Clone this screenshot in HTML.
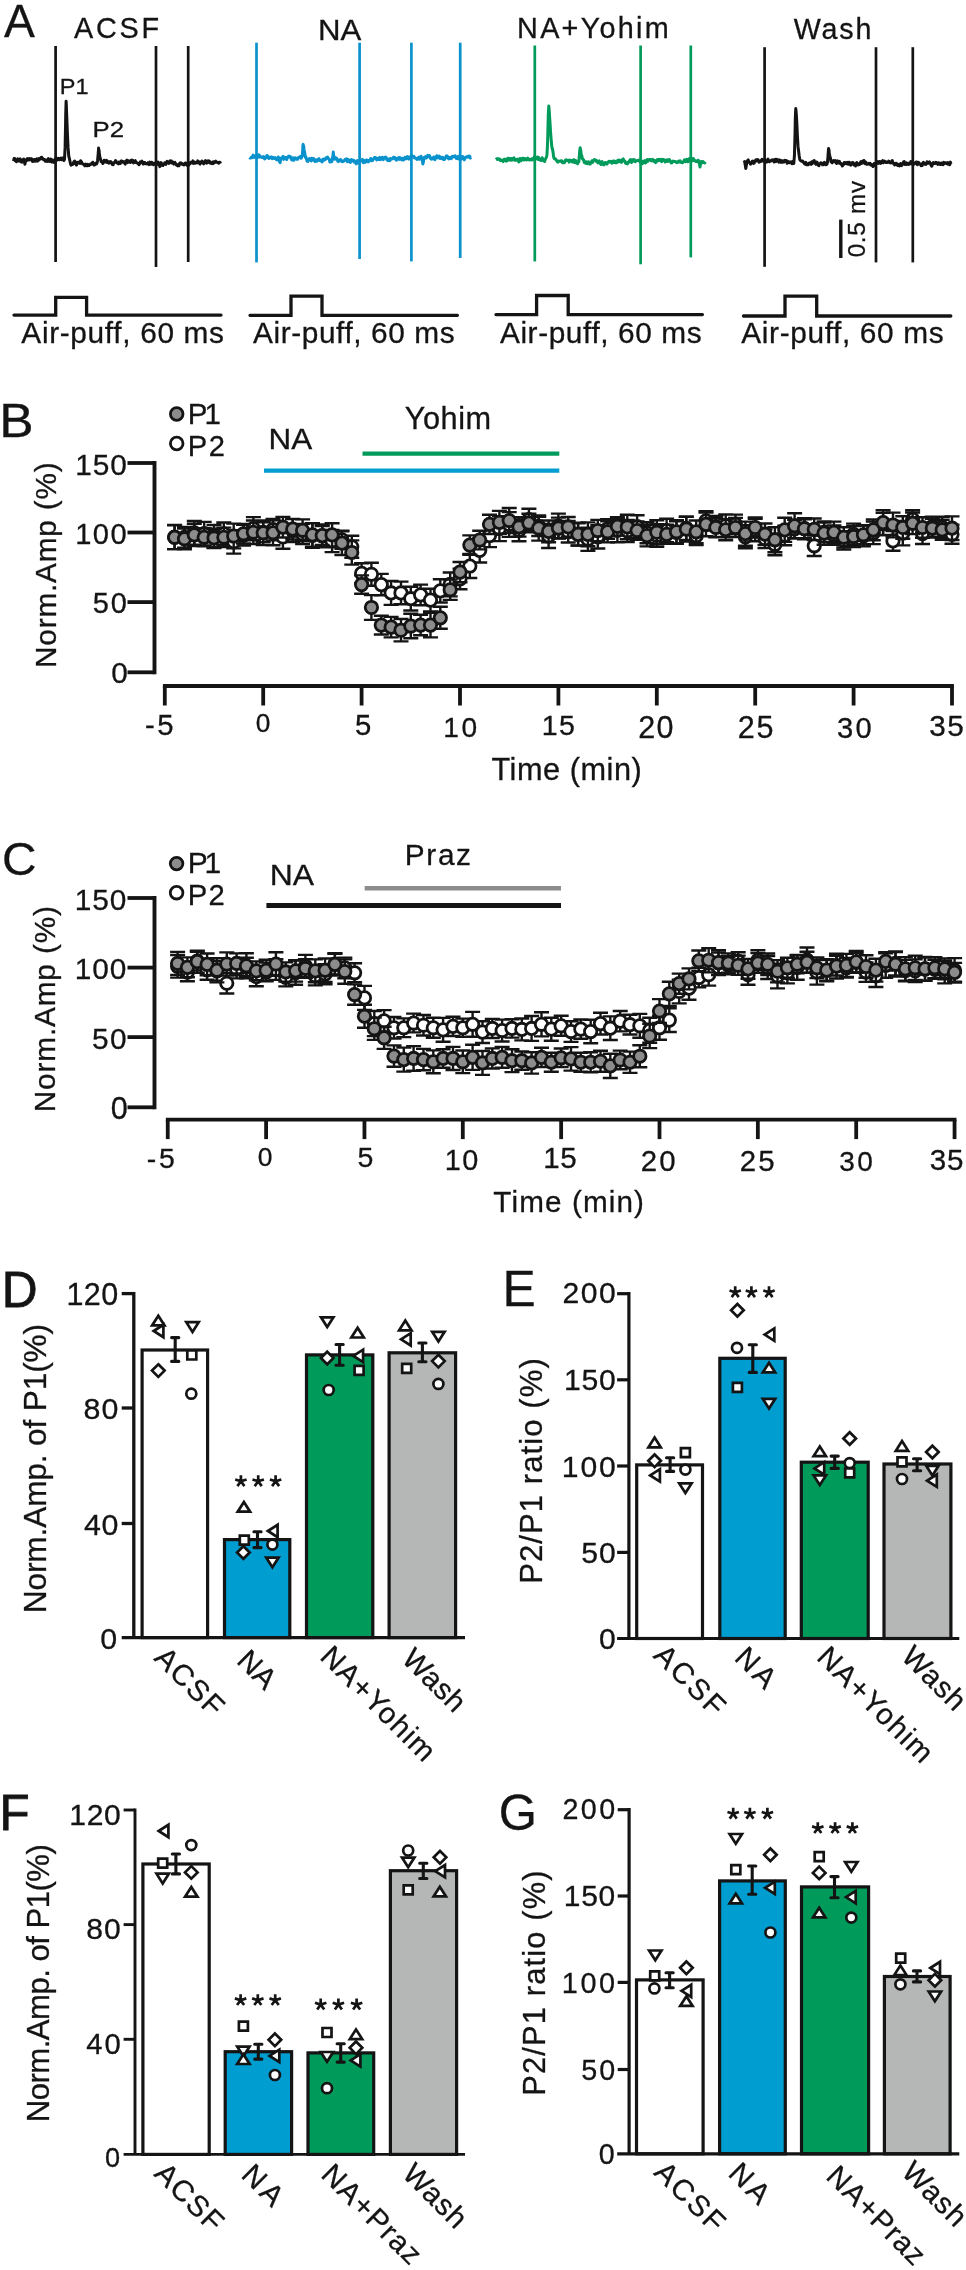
<!DOCTYPE html>
<html><head><meta charset="utf-8"><title>Figure</title>
<style>
html,body{margin:0;padding:0;background:#fff;}
svg{display:block;}
text{font-family:"Liberation Sans",sans-serif;stroke:#141414;stroke-width:0.3px;}
svg{will-change:transform;}
</style></head><body>
<svg width="966" height="2270" viewBox="0 0 966 2270">
<rect x="0" y="0" width="966" height="2270" fill="#fff"/>
<text x="4.08" y="37" font-size="46.25" textLength="30.61" lengthAdjust="spacing" fill="#141414">A</text>
<text x="73.93" y="38" font-size="28.8" textLength="85.28" lengthAdjust="spacing" fill="#141414">ACSF</text>
<text x="317.93" y="39.8" font-size="29.38" textLength="43.33" lengthAdjust="spacingAndGlyphs" fill="#141414">NA</text>
<text x="517.12" y="37.8" font-size="28.8" textLength="151.57" lengthAdjust="spacing" fill="#141414">NA+Yohim</text>
<text x="793.66" y="38.5" font-size="28.65" textLength="77.85" lengthAdjust="spacing" fill="#141414">Wash</text>
<text x="59.86" y="94.4" font-size="22.11" textLength="28.77" lengthAdjust="spacingAndGlyphs" fill="#141414">P1</text>
<text x="92.47" y="137.4" font-size="22.55" textLength="31.53" lengthAdjust="spacingAndGlyphs" fill="#141414">P2</text>
<path d="M13.5,161.1 L14.1,158.6 L14.7,158.5 L15.3,160.9 L15.9,160.2 L16.5,161.8 L17.1,160.3 L17.7,158.8 L18.3,160.1 L18.9,161.1 L19.5,159.9 L20.1,158.9 L20.7,159.6 L21.3,162.0 L21.9,162.2 L22.5,160.1 L23.1,159.8 L23.7,159.0 L24.3,160.2 L24.9,164.3 L25.5,161.5 L26.1,160.1 L26.7,159.6 L27.3,158.7 L27.9,160.2 L28.5,158.8 L29.1,160.0 L29.7,158.6 L30.3,159.2 L30.9,158.7 L31.5,158.7 L32.1,161.1 L32.7,161.4 L33.3,159.8 L33.9,161.3 L34.5,159.5 L35.1,159.5 L35.7,161.1 L36.3,160.9 L36.9,158.9 L37.5,161.1 L38.1,159.1 L38.7,158.5 L39.3,159.9 L39.9,158.8 L40.5,158.3 L41.1,157.4 L41.7,157.2 L42.3,159.0 L42.9,158.5 L43.5,159.7 L44.1,159.4 L44.7,159.6 L45.3,161.3 L45.9,160.3 L46.5,160.3 L47.1,161.4 L47.7,159.5 L48.3,158.7 L48.9,161.0 L49.5,161.5 L50.1,159.8 L50.7,159.0 L51.3,160.7 L51.9,162.0 L52.5,160.0 L53.1,161.8 L53.7,162.3 L54.3,161.5 L54.9,160.4 L55.5,158.8 L56.1,157.8 L56.7,160.3 L57.3,158.6 L57.9,159.4 L58.5,158.3 L59.1,159.8 L59.7,159.6 L60.3,158.6 L60.9,158.0 L61.5,159.6 L62.1,158.1 L62.7,158.1 L63.3,159.2 L63.9,160.5 L64.5,159.4 L65.1,147.4 L65.6,122.6 L65.7,115.0 L66.1,101.3 L66.3,104.5 L66.6,112.6 L66.9,120.1 L67.5,135.8 L68.1,147.7 L68.7,155.6 L69.3,158.3 L69.9,160.8 L70.5,163.7 L71.1,165.2 L71.7,164.7 L72.3,164.6 L72.9,164.2 L73.5,162.5 L74.1,161.5 L74.7,161.1 L75.3,163.9 L75.9,164.2 L76.5,165.1 L77.1,162.2 L77.7,163.1 L78.3,162.7 L78.9,163.2 L79.5,161.7 L80.1,163.4 L80.7,160.8 L81.3,161.6 L81.9,162.7 L82.5,163.9 L83.1,164.1 L83.7,164.3 L84.3,165.0 L84.9,165.8 L85.5,164.1 L86.1,164.6 L86.7,165.5 L87.3,165.8 L87.9,164.3 L88.5,165.0 L89.1,165.5 L89.7,164.7 L90.3,164.6 L90.9,163.7 L91.5,164.0 L92.1,164.0 L92.7,162.2 L93.3,163.3 L93.9,164.9 L94.5,165.0 L95.1,164.6 L95.7,163.3 L96.3,164.0 L96.9,163.5 L97.5,161.0 L98.1,154.8 L98.6,148.1 L98.7,149.8 L99.1,150.4 L99.3,153.1 L99.9,157.1 L100.5,159.0 L101.1,161.6 L101.7,161.9 L102.3,162.4 L102.9,163.5 L103.5,161.7 L104.1,160.2 L104.7,160.6 L105.3,162.0 L105.9,160.8 L106.5,160.3 L107.1,162.5 L107.7,162.5 L108.3,161.7 L108.9,163.1 L109.5,161.8 L110.1,162.7 L110.7,161.6 L111.3,162.1 L111.9,163.7 L112.5,164.6 L113.1,164.7 L113.7,162.9 L114.3,162.9 L114.9,161.8 L115.5,160.6 L116.1,161.3 L116.7,162.7 L117.3,163.3 L117.9,163.0 L118.5,163.8 L119.1,162.1 L119.7,162.9 L120.3,163.5 L120.9,161.4 L121.5,160.8 L122.1,161.3 L122.7,162.2 L123.3,162.1 L123.9,161.5 L124.5,163.1 L125.1,164.1 L125.7,162.7 L126.3,160.9 L126.9,160.1 L127.5,162.6 L128.1,160.6 L128.7,162.1 L129.3,162.1 L129.9,161.2 L130.5,162.5 L131.1,160.4 L131.7,160.1 L132.3,161.3 L132.9,160.4 L133.5,162.9 L134.1,161.9 L134.7,161.2 L135.3,160.7 L135.9,162.4 L136.5,162.4 L137.1,163.0 L137.7,163.3 L138.3,163.9 L138.9,164.7 L139.5,164.0 L140.1,162.1 L140.7,162.5 L141.3,161.8 L141.9,161.1 L142.5,162.6 L143.1,164.0 L143.7,162.7 L144.3,162.5 L144.9,162.6 L145.5,163.8 L146.1,163.5 L146.7,163.6 L147.3,164.0 L147.9,162.9 L148.5,163.8 L149.1,164.6 L149.7,162.1 L150.3,164.1 L150.9,164.2 L151.5,162.2 L152.1,162.7 L152.7,163.4 L153.3,164.6 L153.9,163.2 L154.5,163.3 L155.1,164.4 L155.7,164.4 L156.3,164.9 L156.9,163.4 L157.5,163.5 L158.1,162.1 L158.7,163.4 L159.3,165.1 L159.9,166.6 L160.5,165.6 L161.1,162.6 L161.7,164.3 L162.3,165.2 L162.9,165.5 L163.5,164.0 L164.1,164.3 L164.7,162.7 L165.3,164.1 L165.9,164.4 L166.5,162.8 L167.1,161.3 L167.7,161.9 L168.3,162.5 L168.9,163.3 L169.5,162.6 L170.1,160.8 L170.7,162.8 L171.3,161.0 L171.9,163.0 L172.5,161.8 L173.1,162.2 L173.7,164.1 L174.3,162.7 L174.9,162.4 L175.5,163.5 L176.1,164.6 L176.7,165.3 L177.3,165.1 L177.9,165.9 L178.5,164.6 L179.1,165.7 L179.7,163.2 L180.3,162.8 L180.9,163.6 L181.5,163.1 L182.1,164.3 L182.7,164.4 L183.3,164.0 L183.9,164.9 L184.5,164.3 L185.1,163.2 L185.7,163.0 L186.3,164.5 L186.9,165.1 L187.5,163.0 L188.1,164.4 L188.7,165.3 L189.3,164.1 L189.9,163.7 L190.5,162.2 L191.1,162.7 L191.7,162.6 L192.3,162.9 L192.9,160.9 L193.5,163.4 L194.1,162.8 L194.7,162.1 L195.3,163.2 L195.9,162.8 L196.5,162.4 L197.1,162.9 L197.7,160.9 L198.3,161.9 L198.9,161.8 L199.5,163.6 L200.1,164.1 L200.7,162.1 L201.3,162.1 L201.9,161.0 L202.5,161.6 L203.1,163.1 L203.7,163.9 L204.3,162.6 L204.9,161.6 L205.5,160.7 L206.1,161.8 L206.7,163.2 L207.3,161.0 L207.9,162.6 L208.5,160.8 L209.1,161.0 L209.7,161.4 L210.3,163.3 L210.9,162.8 L211.5,162.8 L212.1,163.6 L212.7,162.0 L213.3,163.5 L213.9,161.8 L214.5,162.4 L215.1,161.7 L215.7,161.2 L216.3,162.2 L216.9,162.3 L217.5,162.3 L218.1,162.6 L218.7,163.2 L219.3,162.3 L219.9,162.2 L220.5,163.6" stroke="#141414" stroke-width="3" fill="none" stroke-linejoin="round"/>
<path d="M249.5,157.4 L250.1,158.1 L250.7,158.0 L251.3,157.3 L251.9,157.6 L252.5,157.0 L253.1,155.1 L253.7,157.5 L254.3,156.2 L254.9,156.0 L255.5,155.8 L256.1,157.5 L256.7,158.2 L257.3,156.9 L257.9,156.0 L258.5,154.7 L259.1,157.1 L259.7,155.7 L260.3,156.9 L260.9,156.9 L261.5,157.2 L262.1,157.6 L262.7,157.3 L263.3,156.6 L263.9,157.8 L264.5,158.9 L265.1,158.6 L265.7,156.7 L266.3,157.5 L266.9,155.5 L267.5,156.0 L268.1,157.6 L268.7,158.5 L269.3,157.2 L269.9,158.1 L270.5,157.2 L271.1,157.0 L271.7,157.1 L272.3,158.6 L272.9,158.4 L273.5,157.5 L274.1,158.3 L274.7,158.5 L275.3,157.7 L275.9,159.0 L276.5,159.6 L277.1,159.0 L277.7,159.9 L278.3,157.0 L278.9,158.0 L279.5,161.5 L280.1,162.7 L280.7,158.8 L281.3,157.8 L281.9,157.6 L282.5,157.1 L283.1,156.4 L283.7,159.4 L284.3,158.6 L284.9,157.6 L285.5,157.6 L286.1,157.6 L286.7,159.6 L287.3,157.7 L287.9,157.2 L288.5,156.2 L289.1,157.0 L289.7,156.3 L290.3,156.6 L290.9,158.2 L291.5,159.6 L292.1,160.1 L292.7,157.8 L293.3,158.4 L293.9,160.3 L294.5,158.2 L295.1,157.9 L295.7,158.7 L296.3,158.4 L296.9,159.3 L297.5,159.3 L298.1,158.4 L298.7,157.3 L299.3,156.9 L299.9,156.9 L300.5,156.4 L301.1,158.3 L301.7,157.0 L302.3,155.7 L302.7,150.1 L302.9,145.5 L303.2,144.4 L303.5,146.4 L303.7,146.1 L304.1,150.0 L304.7,152.7 L305.3,157.3 L305.9,156.9 L306.5,159.1 L307.1,161.2 L307.7,161.5 L308.3,159.6 L308.9,159.9 L309.5,158.6 L310.1,158.7 L310.7,160.5 L311.3,160.9 L311.9,158.3 L312.5,158.6 L313.1,159.7 L313.7,158.6 L314.3,160.4 L314.9,161.4 L315.5,160.7 L316.1,159.9 L316.7,161.3 L317.3,160.7 L317.9,159.3 L318.5,159.1 L319.1,158.6 L319.7,160.6 L320.3,160.2 L320.9,160.6 L321.5,161.2 L322.1,161.9 L322.7,159.4 L323.3,159.0 L323.9,160.2 L324.5,160.1 L325.1,158.7 L325.7,159.1 L326.3,157.7 L326.9,157.3 L327.5,157.0 L328.1,158.4 L328.7,158.6 L329.3,159.9 L329.9,162.0 L330.5,160.0 L331.1,160.6 L331.7,161.7 L332.3,159.8 L332.8,156.0 L332.9,156.0 L333.3,152.1 L333.5,154.7 L333.8,155.6 L334.1,157.0 L334.7,159.2 L335.3,158.1 L335.9,157.8 L336.5,158.1 L337.1,159.3 L337.7,161.1 L338.3,161.6 L338.9,160.0 L339.5,160.2 L340.1,160.7 L340.7,159.5 L341.3,161.2 L341.9,161.7 L342.5,161.1 L343.1,161.5 L343.7,161.3 L344.3,160.7 L344.9,159.6 L345.5,159.2 L346.1,159.2 L346.7,158.8 L347.3,161.8 L347.9,160.9 L348.5,159.6 L349.1,160.4 L349.7,161.6 L350.3,162.5 L350.9,160.6 L351.5,159.6 L352.1,160.4 L352.7,160.4 L353.3,160.3 L353.9,161.9 L354.5,160.8 L355.1,161.4 L355.7,162.9 L356.3,163.8 L356.9,162.2 L357.5,160.5 L358.1,163.0 L358.7,162.3 L359.3,161.1 L359.9,160.3 L360.5,160.3 L361.1,160.4 L361.7,159.8 L362.3,159.3 L362.9,162.3 L363.5,162.7 L364.1,160.5 L364.7,161.0 L365.3,162.3 L365.9,161.7 L366.5,160.0 L367.1,160.2 L367.7,160.2 L368.3,161.9 L368.9,161.1 L369.5,160.3 L370.1,160.5 L370.7,158.5 L371.3,159.9 L371.9,160.8 L372.5,160.6 L373.1,159.5 L373.7,158.9 L374.3,157.7 L374.9,157.5 L375.5,157.6 L376.1,158.6 L376.7,160.0 L377.3,158.5 L377.9,158.8 L378.5,159.3 L379.1,159.5 L379.7,157.4 L380.3,159.7 L380.9,159.3 L381.5,158.1 L382.1,157.3 L382.7,158.5 L383.3,159.6 L383.9,157.9 L384.5,157.5 L385.1,158.0 L385.7,157.1 L386.3,157.7 L386.9,159.9 L387.5,159.7 L388.1,160.6 L388.7,159.1 L389.3,160.6 L389.9,160.7 L390.5,158.6 L391.1,158.7 L391.7,159.1 L392.3,158.6 L392.9,158.5 L393.5,157.2 L394.1,157.9 L394.7,157.6 L395.3,159.1 L395.9,158.4 L396.5,160.3 L397.1,159.7 L397.7,158.3 L398.3,158.5 L398.9,157.6 L399.5,159.4 L400.1,157.7 L400.7,159.1 L401.3,158.6 L401.9,160.0 L402.5,158.3 L403.1,159.6 L403.7,160.0 L404.3,158.5 L404.9,157.4 L405.5,157.8 L406.1,158.8 L406.7,157.8 L407.3,156.6 L407.9,157.6 L408.5,159.0 L409.1,157.1 L409.7,158.9 L410.3,157.9 L410.9,156.4 L411.5,155.6 L412.1,156.3 L412.7,157.1 L413.3,156.6 L413.9,156.3 L414.5,157.9 L415.1,157.7 L415.7,158.3 L416.3,158.5 L416.9,159.4 L417.5,159.2 L418.1,157.9 L418.7,157.3 L419.3,159.3 L419.9,157.2 L420.5,156.7 L421.1,156.3 L421.7,158.6 L422.3,160.4 L422.9,163.9 L423.5,161.4 L424.1,157.6 L424.7,157.0 L425.3,157.9 L425.9,156.5 L426.5,157.9 L427.1,157.0 L427.7,155.4 L428.3,155.9 L428.9,156.7 L429.5,155.6 L430.1,157.8 L430.7,158.8 L431.3,157.9 L431.9,159.1 L432.5,158.9 L433.1,158.4 L433.7,157.0 L434.3,159.2 L434.9,159.7 L435.5,158.1 L436.1,157.2 L436.7,155.7 L437.3,156.8 L437.9,157.9 L438.5,156.8 L439.1,156.1 L439.7,157.2 L440.3,158.5 L440.9,157.1 L441.5,157.3 L442.1,158.8 L442.7,157.3 L443.3,159.4 L443.9,158.3 L444.5,159.5 L445.1,158.5 L445.7,157.1 L446.3,156.0 L446.9,155.8 L447.5,156.3 L448.1,158.1 L448.7,158.9 L449.3,158.6 L449.9,157.4 L450.5,158.2 L451.1,158.7 L451.7,157.6 L452.3,156.3 L452.9,157.1 L453.5,156.5 L454.1,156.2 L454.7,156.7 L455.3,155.8 L455.9,158.2 L456.5,157.0 L457.1,158.6 L457.7,158.7 L458.3,156.4 L458.9,158.7 L459.5,159.2 L460.1,158.5 L460.7,159.5 L461.3,158.5 L461.9,156.6 L462.5,156.4 L463.1,157.0 L463.7,159.1 L464.3,159.9 L464.9,157.7 L465.5,157.8 L466.1,156.9 L466.7,156.8 L467.3,157.0 L467.9,157.1 L468.5,156.0 L469.1,157.2 L469.7,156.2 L470.3,158.1 L470.9,157.3" stroke="#0a92cc" stroke-width="3" fill="none" stroke-linejoin="round"/>
<path d="M496.0,159.5 L496.6,158.9 L497.2,159.4 L497.8,158.7 L498.4,159.2 L499.0,159.1 L499.6,159.0 L500.2,160.5 L500.8,160.4 L501.4,160.4 L502.0,160.0 L502.6,160.5 L503.2,161.6 L503.8,160.4 L504.4,159.1 L505.0,160.1 L505.6,160.0 L506.2,161.1 L506.8,159.1 L507.4,160.7 L508.0,158.2 L508.6,159.0 L509.2,158.8 L509.8,158.4 L510.4,160.2 L511.0,160.3 L511.6,158.6 L512.2,159.2 L512.8,159.9 L513.4,158.2 L514.0,157.8 L514.6,159.4 L515.2,160.4 L515.8,159.9 L516.4,159.6 L517.0,159.9 L517.6,159.2 L518.2,161.0 L518.8,161.9 L519.4,160.5 L520.0,158.5 L520.6,159.0 L521.2,160.6 L521.8,159.5 L522.4,158.3 L523.0,158.2 L523.6,159.8 L524.2,159.9 L524.8,158.5 L525.4,158.9 L526.0,159.2 L526.6,159.9 L527.2,159.6 L527.8,158.1 L528.4,159.0 L529.0,159.8 L529.6,160.0 L530.2,159.8 L530.8,159.3 L531.4,158.9 L532.0,159.9 L532.6,159.4 L533.2,159.5 L533.8,157.9 L534.4,156.8 L535.0,157.0 L535.6,158.2 L536.2,158.6 L536.8,157.5 L537.4,157.1 L538.0,159.5 L538.6,157.4 L539.2,159.6 L539.8,159.8 L540.4,159.3 L541.0,160.5 L541.6,160.0 L542.2,157.7 L542.8,160.2 L543.4,159.5 L544.0,161.2 L544.6,161.5 L545.2,159.5 L545.8,158.4 L546.4,157.1 L547.0,154.8 L547.6,141.7 L548.2,118.2 L548.3,114.0 L548.8,106.0 L549.3,111.9 L549.4,113.6 L550.0,122.9 L550.6,132.5 L551.2,140.1 L551.8,146.7 L552.4,149.0 L553.0,151.7 L553.6,156.8 L554.2,158.6 L554.8,158.9 L555.4,158.7 L556.0,159.8 L556.6,160.5 L557.2,161.6 L557.8,162.1 L558.4,161.5 L559.0,161.0 L559.6,161.3 L560.2,161.1 L560.8,160.8 L561.4,161.7 L562.0,160.9 L562.6,162.8 L563.2,162.6 L563.8,162.3 L564.4,162.7 L565.0,161.4 L565.6,160.1 L566.2,159.7 L566.8,160.3 L567.4,160.6 L568.0,160.3 L568.6,160.4 L569.2,162.2 L569.8,160.1 L570.4,160.8 L571.0,160.8 L571.6,160.5 L572.2,161.9 L572.8,160.7 L573.4,159.7 L574.0,159.8 L574.6,162.6 L575.2,161.6 L575.8,160.5 L576.4,163.0 L577.0,162.8 L577.6,163.7 L578.2,161.7 L578.8,161.9 L579.4,155.1 L579.7,150.7 L580.0,148.9 L580.2,147.7 L580.6,150.4 L580.7,149.9 L581.2,154.7 L581.8,155.8 L582.4,159.1 L583.0,159.3 L583.6,159.7 L584.2,162.3 L584.8,161.9 L585.4,163.1 L586.0,161.7 L586.6,162.7 L587.2,163.7 L587.8,163.2 L588.4,161.7 L589.0,162.7 L589.6,164.0 L590.2,164.0 L590.8,162.7 L591.4,162.1 L592.0,160.7 L592.6,162.4 L593.2,160.8 L593.8,160.4 L594.4,159.6 L595.0,159.7 L595.6,160.6 L596.2,161.3 L596.8,160.7 L597.4,161.4 L598.0,162.9 L598.6,161.3 L599.2,160.9 L599.8,162.1 L600.4,163.8 L601.0,164.4 L601.6,163.5 L602.2,161.6 L602.8,163.6 L603.4,164.7 L604.0,164.8 L604.6,163.5 L605.2,162.5 L605.8,162.7 L606.4,163.3 L607.0,164.1 L607.6,162.6 L608.2,162.1 L608.8,161.3 L609.4,161.8 L610.0,162.0 L610.6,161.2 L611.2,161.6 L611.8,163.3 L612.4,161.6 L613.0,161.1 L613.6,161.0 L614.2,162.7 L614.8,161.2 L615.4,162.3 L616.0,162.8 L616.6,162.7 L617.2,162.4 L617.8,160.2 L618.4,160.3 L619.0,161.6 L619.6,160.1 L620.2,160.7 L620.8,161.9 L621.4,162.4 L622.0,160.7 L622.6,159.4 L623.2,158.9 L623.8,159.9 L624.4,161.4 L625.0,161.3 L625.6,163.3 L626.2,163.5 L626.8,163.4 L627.4,163.9 L628.0,162.2 L628.6,162.4 L629.2,161.2 L629.8,160.4 L630.4,159.5 L631.0,161.4 L631.6,162.5 L632.2,159.9 L632.8,161.3 L633.4,159.5 L634.0,160.1 L634.6,159.9 L635.2,161.8 L635.8,161.0 L636.4,161.0 L637.0,160.7 L637.6,160.5 L638.2,160.6 L638.8,160.2 L639.4,160.0 L640.0,161.8 L640.6,163.0 L641.2,163.1 L641.8,161.7 L642.4,163.7 L643.0,161.2 L643.6,161.5 L644.2,161.3 L644.8,160.7 L645.4,163.0 L646.0,162.7 L646.6,160.5 L647.2,159.6 L647.8,161.3 L648.4,160.3 L649.0,159.7 L649.6,159.5 L650.2,159.6 L650.8,160.6 L651.4,160.1 L652.0,160.9 L652.6,159.4 L653.2,160.5 L653.8,161.1 L654.4,160.3 L655.0,161.9 L655.6,162.6 L656.2,162.0 L656.8,160.9 L657.4,159.6 L658.0,160.8 L658.6,160.0 L659.2,159.3 L659.8,160.3 L660.4,159.6 L661.0,160.8 L661.6,161.7 L662.2,159.4 L662.8,160.7 L663.4,159.6 L664.0,159.7 L664.6,160.9 L665.2,162.0 L665.8,160.2 L666.4,161.0 L667.0,159.9 L667.6,161.5 L668.2,159.7 L668.8,160.8 L669.4,159.5 L670.0,160.7 L670.6,161.9 L671.2,162.9 L671.8,162.8 L672.4,161.9 L673.0,161.1 L673.6,161.4 L674.2,161.6 L674.8,161.4 L675.4,161.7 L676.0,161.9 L676.6,162.6 L677.2,161.8 L677.8,162.4 L678.4,162.2 L679.0,161.0 L679.6,162.0 L680.2,160.8 L680.8,162.0 L681.4,162.5 L682.0,162.7 L682.6,162.7 L683.2,161.9 L683.8,161.0 L684.4,159.9 L685.0,160.7 L685.6,161.8 L686.2,160.4 L686.8,159.3 L687.4,160.8 L688.0,161.8 L688.6,159.8 L689.2,158.8 L689.8,158.4 L690.4,159.7 L691.0,161.1 L691.6,159.6 L692.2,160.8 L692.8,158.7 L693.4,158.5 L694.0,159.6 L694.6,160.8 L695.2,160.5 L695.8,161.4 L696.4,160.8 L697.0,161.0 L697.6,161.7 L698.2,160.2 L698.8,161.3 L699.4,163.8 L700.0,167.0 L700.6,163.8 L701.2,161.5 L701.8,162.9 L702.4,162.6 L703.0,161.6 L703.6,162.6 L704.2,162.6 L704.8,162.9 L705.4,162.0" stroke="#009b5a" stroke-width="3" fill="none" stroke-linejoin="round"/>
<path d="M744.0,162.4 L744.6,161.5 L745.2,164.8 L745.8,168.4 L746.4,164.9 L747.0,161.5 L747.6,160.6 L748.2,159.9 L748.8,162.2 L749.4,162.6 L750.0,162.6 L750.6,164.2 L751.2,162.7 L751.8,161.7 L752.4,161.1 L753.0,161.7 L753.6,163.4 L754.2,163.1 L754.8,160.9 L755.4,161.2 L756.0,159.7 L756.6,161.0 L757.2,159.8 L757.8,159.5 L758.4,161.0 L759.0,162.2 L759.6,161.9 L760.2,160.7 L760.8,161.5 L761.4,160.5 L762.0,159.3 L762.6,159.7 L763.2,161.2 L763.8,161.4 L764.4,160.0 L765.0,161.6 L765.6,162.1 L766.2,160.4 L766.8,162.1 L767.4,160.3 L768.0,159.1 L768.6,160.2 L769.2,161.8 L769.8,161.5 L770.4,161.2 L771.0,160.9 L771.6,160.1 L772.2,159.8 L772.8,160.0 L773.4,160.5 L774.0,162.0 L774.6,159.6 L775.2,159.3 L775.8,161.6 L776.4,161.4 L777.0,159.4 L777.6,160.0 L778.2,161.0 L778.8,162.2 L779.4,159.9 L780.0,161.8 L780.6,162.1 L781.2,160.6 L781.8,161.1 L782.4,162.3 L783.0,160.9 L783.6,162.0 L784.2,162.0 L784.8,160.3 L785.4,160.5 L786.0,161.1 L786.6,160.6 L787.2,163.3 L787.8,162.0 L788.4,161.6 L789.0,162.6 L789.6,162.7 L790.2,162.0 L790.8,161.8 L791.4,162.3 L792.0,163.8 L792.6,161.6 L793.2,163.6 L793.8,163.5 L794.4,156.2 L795.0,135.0 L795.3,119.7 L795.6,111.0 L795.8,108.6 L796.2,113.1 L796.3,113.9 L796.8,122.9 L797.4,135.9 L798.0,146.2 L798.6,151.0 L799.2,155.9 L799.8,159.6 L800.4,160.5 L801.0,160.8 L801.6,161.2 L802.2,160.9 L802.8,161.1 L803.4,162.2 L804.0,163.1 L804.6,163.9 L805.2,163.2 L805.8,162.4 L806.4,164.8 L807.0,164.7 L807.6,164.8 L808.2,164.8 L808.8,163.4 L809.4,163.7 L810.0,162.8 L810.6,163.5 L811.2,164.3 L811.8,161.9 L812.4,163.6 L813.0,161.8 L813.6,160.8 L814.2,160.5 L814.8,162.0 L815.4,163.5 L816.0,164.3 L816.6,162.0 L817.2,162.4 L817.8,164.5 L818.4,165.3 L819.0,165.6 L819.6,163.9 L820.2,163.5 L820.8,162.8 L821.4,162.9 L822.0,163.4 L822.6,164.8 L823.2,164.8 L823.8,163.0 L824.4,162.4 L825.0,163.1 L825.6,164.8 L826.2,163.9 L826.8,164.4 L827.4,162.7 L828.0,156.5 L828.1,153.9 L828.6,148.5 L829.1,151.1 L829.2,153.0 L829.8,155.8 L830.4,158.1 L831.0,161.8 L831.6,162.1 L832.2,162.8 L832.8,161.5 L833.4,160.6 L834.0,160.9 L834.6,161.7 L835.2,160.6 L835.8,161.1 L836.4,163.5 L837.0,162.7 L837.6,160.9 L838.2,163.0 L838.8,162.0 L839.4,161.4 L840.0,163.1 L840.6,164.0 L841.2,163.5 L841.8,164.8 L842.4,166.0 L843.0,164.6 L843.6,164.5 L844.2,162.6 L844.8,163.6 L845.4,162.7 L846.0,163.3 L846.6,163.7 L847.2,162.4 L847.8,163.1 L848.4,164.3 L849.0,162.3 L849.6,163.9 L850.2,163.6 L850.8,165.2 L851.4,162.9 L852.0,163.1 L852.6,162.4 L853.2,162.6 L853.8,164.9 L854.4,164.7 L855.0,164.1 L855.6,166.0 L856.2,163.6 L856.8,162.6 L857.4,164.6 L858.0,164.3 L858.6,164.8 L859.2,163.6 L859.8,164.4 L860.4,162.5 L861.0,161.5 L861.6,163.4 L862.2,163.0 L862.8,161.2 L863.4,160.7 L864.0,160.6 L864.6,163.1 L865.2,163.7 L865.8,162.1 L866.4,163.8 L867.0,164.4 L867.6,164.2 L868.2,163.9 L868.8,163.4 L869.4,164.1 L870.0,163.3 L870.6,164.9 L871.2,164.4 L871.8,164.7 L872.4,165.8 L873.0,166.5 L873.6,165.3 L874.2,163.5 L874.8,164.2 L875.4,165.7 L876.0,163.5 L876.6,162.7 L877.2,162.2 L877.8,161.7 L878.4,163.4 L879.0,163.1 L879.6,161.5 L880.2,162.4 L880.8,163.3 L881.4,161.4 L882.0,161.4 L882.6,160.7 L883.2,162.8 L883.8,162.5 L884.4,161.1 L885.0,161.4 L885.6,161.4 L886.2,162.6 L886.8,162.5 L887.4,162.5 L888.0,162.2 L888.6,161.1 L889.2,161.6 L889.8,162.8 L890.4,162.8 L891.0,162.9 L891.6,161.4 L892.2,160.5 L892.8,162.7 L893.4,163.4 L894.0,163.6 L894.6,164.9 L895.2,163.4 L895.8,164.5 L896.4,163.4 L897.0,164.1 L897.6,165.4 L898.2,164.3 L898.8,164.5 L899.4,165.9 L900.0,164.8 L900.6,163.6 L901.2,165.6 L901.8,165.3 L902.4,163.9 L903.0,163.2 L903.6,161.9 L904.2,161.6 L904.8,164.4 L905.4,163.9 L906.0,164.5 L906.6,162.8 L907.2,164.2 L907.8,164.1 L908.4,164.5 L909.0,163.2 L909.6,164.1 L910.2,163.2 L910.8,161.5 L911.4,163.6 L912.0,162.5 L912.6,164.4 L913.2,164.1 L913.8,163.6 L914.4,164.0 L915.0,163.6 L915.6,162.4 L916.2,161.9 L916.8,161.9 L917.4,164.7 L918.0,163.8 L918.6,162.3 L919.2,163.1 L919.8,164.2 L920.4,164.5 L921.0,165.6 L921.6,164.0 L922.2,165.5 L922.8,162.8 L923.4,162.3 L924.0,163.3 L924.6,164.1 L925.2,163.6 L925.8,164.5 L926.4,163.9 L927.0,161.8 L927.6,162.3 L928.2,163.3 L928.8,162.3 L929.4,161.9 L930.0,163.4 L930.6,163.5 L931.2,165.5 L931.8,166.2 L932.4,164.3 L933.0,162.7 L933.6,162.6 L934.2,163.4 L934.8,163.6 L935.4,163.6 L936.0,162.4 L936.6,162.6 L937.2,163.1 L937.8,164.4 L938.4,162.7 L939.0,163.9 L939.6,163.4 L940.2,164.5 L940.8,164.6 L941.4,163.0 L942.0,164.2 L942.6,163.4 L943.2,164.7 L943.8,162.4 L944.4,162.6 L945.0,163.3 L945.6,162.8 L946.2,162.9 L946.8,163.6 L947.4,162.7 L948.0,164.3 L948.6,162.9 L949.2,163.6 L949.8,164.7 L950.4,162.1 L951.0,163.9" stroke="#141414" stroke-width="3" fill="none" stroke-linejoin="round"/>
<line x1="55.6" y1="46" x2="55.6" y2="262" stroke="#141414" stroke-width="2.7" stroke-linecap="butt"/>
<line x1="156" y1="46" x2="156" y2="267" stroke="#141414" stroke-width="2.7" stroke-linecap="butt"/>
<line x1="188.2" y1="46" x2="188.2" y2="262" stroke="#141414" stroke-width="2.7" stroke-linecap="butt"/>
<line x1="256.5" y1="42.7" x2="256.5" y2="262.4" stroke="#0a92cc" stroke-width="2.7" stroke-linecap="butt"/>
<line x1="359.6" y1="42.7" x2="359.6" y2="259" stroke="#0a92cc" stroke-width="2.7" stroke-linecap="butt"/>
<line x1="411.4" y1="42.7" x2="411.4" y2="261.4" stroke="#0a92cc" stroke-width="2.7" stroke-linecap="butt"/>
<line x1="460.2" y1="42.7" x2="460.2" y2="258" stroke="#0a92cc" stroke-width="2.7" stroke-linecap="butt"/>
<line x1="534.8" y1="45.5" x2="534.8" y2="261.4" stroke="#009b5a" stroke-width="2.7" stroke-linecap="butt"/>
<line x1="640.6" y1="45.5" x2="640.6" y2="264.3" stroke="#009b5a" stroke-width="2.7" stroke-linecap="butt"/>
<line x1="690.8" y1="45.5" x2="690.8" y2="257.4" stroke="#009b5a" stroke-width="2.7" stroke-linecap="butt"/>
<line x1="764.6" y1="47.2" x2="764.6" y2="266.8" stroke="#141414" stroke-width="2.7" stroke-linecap="butt"/>
<line x1="876" y1="47.2" x2="876" y2="262.4" stroke="#141414" stroke-width="2.7" stroke-linecap="butt"/>
<line x1="912.8" y1="47.2" x2="912.8" y2="262.4" stroke="#141414" stroke-width="2.7" stroke-linecap="butt"/>
<line x1="840.8" y1="219.6" x2="840.8" y2="258" stroke="#141414" stroke-width="3.4" stroke-linecap="butt"/>
<text transform="translate(864.6,257.37) rotate(-90)" x="0" y="0" font-size="24.29" textLength="76.52" lengthAdjust="spacing" fill="#141414">0.5 mv</text>
<path d="M14,315.1 H55.7 V297.3 H86.6 V315.1 H221" stroke="#141414" stroke-width="3.3" fill="none" stroke-linejoin="miter" stroke-linecap="round"/>
<path d="M250,315.3 H291 V296.2 H322 V315.3 H457.4" stroke="#141414" stroke-width="3.3" fill="none" stroke-linejoin="miter" stroke-linecap="round"/>
<path d="M496,314.6 H536.6 V295.5 H568.2 V314.6 H702.4" stroke="#141414" stroke-width="3.3" fill="none" stroke-linejoin="miter" stroke-linecap="round"/>
<path d="M743.5,316 H785 V296.2 H816.7 V316 H950.8" stroke="#141414" stroke-width="3.3" fill="none" stroke-linejoin="miter" stroke-linecap="round"/>
<text x="21.33" y="343.4" font-size="29.82" textLength="202.69" lengthAdjust="spacing" fill="#141414">Air-puff, 60 ms</text>
<text x="252.93" y="343.4" font-size="29.82" textLength="201.79" lengthAdjust="spacing" fill="#141414">Air-puff, 60 ms</text>
<text x="499.93" y="343.4" font-size="29.82" textLength="201.69" lengthAdjust="spacing" fill="#141414">Air-puff, 60 ms</text>
<text x="741.33" y="343.4" font-size="29.82" textLength="202.29" lengthAdjust="spacing" fill="#141414">Air-puff, 60 ms</text>
<text x="-0.85" y="436.6" font-size="48" textLength="34.32" lengthAdjust="spacingAndGlyphs" fill="#141414">B</text>
<circle cx="176.7" cy="414" r="6.3" fill="#8c8c8c" stroke="#141414" stroke-width="2.8"/>
<circle cx="176.7" cy="443.5" r="6.3" fill="#fff" stroke="#141414" stroke-width="2.8"/>
<text x="187.76" y="423.6" font-size="29.53" textLength="33.26" lengthAdjust="spacing" fill="#141414">P1</text>
<text x="187.8" y="455.9" font-size="29.09" textLength="37.07" lengthAdjust="spacing" fill="#141414">P2</text>
<text x="268.61" y="449.1" font-size="28.65" textLength="43.64" lengthAdjust="spacingAndGlyphs" fill="#141414">NA</text>
<text x="404.71" y="429.4" font-size="30.69" textLength="86.49" lengthAdjust="spacing" fill="#141414">Yohim</text>
<line x1="362.5" y1="453.7" x2="559.3" y2="453.7" stroke="#009b5a" stroke-width="4.2" stroke-linecap="butt"/>
<line x1="264" y1="470.6" x2="559.3" y2="470.6" stroke="#009dd1" stroke-width="4.2" stroke-linecap="butt"/>
<line x1="154.5" y1="461.1" x2="154.5" y2="674.2" stroke="#141414" stroke-width="3.9" stroke-linecap="butt"/>
<line x1="127.5" y1="463" x2="154.5" y2="463" stroke="#141414" stroke-width="3.8" stroke-linecap="butt"/>
<line x1="127.5" y1="532.5" x2="154.5" y2="532.5" stroke="#141414" stroke-width="3.8" stroke-linecap="butt"/>
<line x1="127.5" y1="602.1" x2="154.5" y2="602.1" stroke="#141414" stroke-width="3.8" stroke-linecap="butt"/>
<line x1="127.5" y1="672.3" x2="154.5" y2="672.3" stroke="#141414" stroke-width="3.8" stroke-linecap="butt"/>
<line x1="162.9" y1="686" x2="953.9" y2="686" stroke="#141414" stroke-width="3.9" stroke-linecap="butt"/>
<line x1="164.8" y1="686" x2="164.8" y2="705.5" stroke="#141414" stroke-width="3.8" stroke-linecap="butt"/>
<line x1="263.2" y1="686" x2="263.2" y2="705.5" stroke="#141414" stroke-width="3.8" stroke-linecap="butt"/>
<line x1="361.6" y1="686" x2="361.6" y2="705.5" stroke="#141414" stroke-width="3.8" stroke-linecap="butt"/>
<line x1="460" y1="686" x2="460" y2="705.5" stroke="#141414" stroke-width="3.8" stroke-linecap="butt"/>
<line x1="558.4" y1="686" x2="558.4" y2="705.5" stroke="#141414" stroke-width="3.8" stroke-linecap="butt"/>
<line x1="656.8" y1="686" x2="656.8" y2="705.5" stroke="#141414" stroke-width="3.8" stroke-linecap="butt"/>
<line x1="755.2" y1="686" x2="755.2" y2="705.5" stroke="#141414" stroke-width="3.8" stroke-linecap="butt"/>
<line x1="853.6" y1="686" x2="853.6" y2="705.5" stroke="#141414" stroke-width="3.8" stroke-linecap="butt"/>
<line x1="952" y1="686" x2="952" y2="705.5" stroke="#141414" stroke-width="3.8" stroke-linecap="butt"/>
<text x="75.16" y="475.1" font-size="29.82" textLength="51.59" lengthAdjust="spacing" fill="#141414">150</text>
<text x="75.22" y="543.81" font-size="29.12" textLength="51.51" lengthAdjust="spacing" fill="#141414">100</text>
<text x="92.74" y="613.01" font-size="28.98" textLength="34.01" lengthAdjust="spacing" fill="#141414">50</text>
<text x="111.31" y="683.2" font-size="29.82" textLength="15.45" lengthAdjust="spacing" fill="#141414">0</text>
<text transform="translate(56,667.96) rotate(-90)" x="0" y="0" font-size="29.82" textLength="205.67" lengthAdjust="spacing" fill="#141414">Norm.Amp (%)</text>
<text x="144.88" y="734.51" font-size="29.25" textLength="28.64" lengthAdjust="spacing" fill="#141414">-5</text>
<text x="255.75" y="732.04" font-size="26.29" textLength="15.67" lengthAdjust="spacing" fill="#141414">0</text>
<text x="354.93" y="734.51" font-size="29.25" textLength="17.27" lengthAdjust="spacing" fill="#141414">5</text>
<text x="443.29" y="736.52" font-size="28.13" textLength="33.83" lengthAdjust="spacing" fill="#141414">10</text>
<text x="541.66" y="734.51" font-size="28.53" textLength="33.15" lengthAdjust="spacing" fill="#141414">15</text>
<text x="638.37" y="738.19" font-size="30.53" textLength="35.04" lengthAdjust="spacing" fill="#141414">20</text>
<text x="737.77" y="738.19" font-size="30.53" textLength="35.62" lengthAdjust="spacing" fill="#141414">25</text>
<text x="837.11" y="737.51" font-size="29.12" textLength="34.55" lengthAdjust="spacing" fill="#141414">30</text>
<text x="929.19" y="735.8" font-size="29.68" textLength="34.47" lengthAdjust="spacing" fill="#141414">35</text>
<text x="491.41" y="779.5" font-size="30.69" textLength="150.42" lengthAdjust="spacing" fill="#141414">Time (min)</text>
<path d="M174.6,524.9V549.1M167.1,524.9H182.1M167.1,549.1H182.1M184.5,527.0V547.7M177.0,527.0H192.0M177.0,547.7H192.0M194.3,521.0V544.7M186.8,521.0H201.8M186.8,544.7H201.8M204.2,521.9V545.5M196.7,521.9H211.7M196.7,545.5H211.7M214.0,525.0V548.0M206.5,525.0H221.5M206.5,548.0H221.5M223.8,522.5V545.3M216.3,522.5H231.3M216.3,545.3H231.3M233.7,530.1V553.6M226.2,530.1H241.2M226.2,553.6H241.2M243.5,524.8V545.5M236.0,524.8H251.0M236.0,545.5H251.0M253.4,517.1V540.2M245.9,517.1H260.9M245.9,540.2H260.9M263.2,522.2V542.3M255.7,522.2H270.7M255.7,542.3H270.7M273.0,518.9V540.4M265.5,518.9H280.5M265.5,540.4H280.5M282.9,525.2V548.7M275.4,525.2H290.4M275.4,548.7H290.4M292.7,519.1V542.0M285.2,519.1H300.2M285.2,542.0H300.2M302.6,523.9V544.1M295.1,523.9H310.1M295.1,544.1H310.1M312.4,523.1V547.9M304.9,523.1H319.9M304.9,547.9H319.9M322.2,524.5V547.2M314.7,524.5H329.7M314.7,547.2H329.7M332.1,529.9V552.1M324.6,529.9H339.6M324.6,552.1H339.6M341.9,530.7V548.9M334.4,530.7H349.4M334.4,548.9H349.4M351.8,535.8V557.7M344.3,535.8H359.3M344.3,557.7H359.3M361.6,563.3V583.2M354.1,563.3H369.1M354.1,583.2H369.1M371.4,562.8V585.7M363.9,562.8H378.9M363.9,585.7H378.9M381.3,573.9V595.3M373.8,573.9H388.8M373.8,595.3H388.8M391.1,581.0V604.9M383.6,581.0H398.6M383.6,604.9H398.6M401.0,581.6V604.3M393.5,581.6H408.5M393.5,604.3H408.5M410.8,586.8V610.5M403.3,586.8H418.3M403.3,610.5H418.3M420.6,584.6V605.2M413.1,584.6H428.1M413.1,605.2H428.1M430.5,588.8V611.4M423.0,588.8H438.0M423.0,611.4H438.0M440.3,579.2V602.5M432.8,579.2H447.8M432.8,602.5H447.8M450.2,572.5V596.4M442.7,572.5H457.7M442.7,596.4H457.7M460.0,568.6V589.2M452.5,568.6H467.5M452.5,589.2H467.5M469.8,554.0V578.0M462.3,554.0H477.3M462.3,578.0H477.3M479.7,538.3V562.5M472.2,538.3H487.2M472.2,562.5H487.2M489.5,524.1V547.1M482.0,524.1H497.0M482.0,547.1H497.0M499.4,516.1V541.1M491.9,516.1H506.9M491.9,541.1H506.9M509.2,512.1V536.9M501.7,512.1H516.7M501.7,536.9H516.7M519.0,519.4V541.2M511.5,519.4H526.5M511.5,541.2H526.5M528.9,508.8V530.6M521.4,508.8H536.4M521.4,530.6H536.4M538.7,516.7V536.0M531.2,516.7H546.2M531.2,536.0H546.2M548.6,524.0V548.0M541.1,524.0H556.1M541.1,548.0H556.1M558.4,513.6V538.3M550.9,513.6H565.9M550.9,538.3H565.9M568.2,521.0V542.5M560.7,521.0H575.7M560.7,542.5H575.7M578.1,522.7V545.6M570.6,522.7H585.6M570.6,545.6H585.6M587.9,527.7V550.9M580.4,527.7H595.4M580.4,550.9H595.4M597.8,525.2V548.5M590.3,525.2H605.3M590.3,548.5H605.3M607.6,519.3V538.7M600.1,519.3H615.1M600.1,538.7H615.1M617.4,518.7V542.3M609.9,518.7H624.9M609.9,542.3H624.9M627.3,519.9V542.1M619.8,519.9H634.8M619.8,542.1H634.8M637.1,515.2V538.0M629.6,515.2H644.6M629.6,538.0H644.6M647.0,522.2V543.3M639.5,522.2H654.5M639.5,543.3H654.5M656.8,524.2V546.7M649.3,524.2H664.3M649.3,546.7H664.3M666.6,518.8V542.3M659.1,518.8H674.1M659.1,542.3H674.1M676.5,521.2V543.8M669.0,521.2H684.0M669.0,543.8H684.0M686.3,516.8V539.9M678.8,516.8H693.8M678.8,539.9H693.8M696.2,526.8V545.1M688.7,526.8H703.7M688.7,545.1H703.7M706.0,511.2V530.5M698.5,511.2H713.5M698.5,530.5H713.5M715.8,515.9V537.2M708.3,515.9H723.3M708.3,537.2H723.3M725.7,514.5V537.2M718.2,514.5H733.2M718.2,537.2H733.2M735.5,514.6V534.3M728.0,514.6H743.0M728.0,534.3H743.0M745.4,525.3V548.3M737.9,525.3H752.9M737.9,548.3H752.9M755.2,518.7V541.3M747.7,518.7H762.7M747.7,541.3H762.7M765.0,529.5V548.0M757.5,529.5H772.5M757.5,548.0H772.5M774.9,533.8V555.3M767.4,533.8H782.4M767.4,555.3H782.4M784.7,525.6V545.3M777.2,525.6H792.2M777.2,545.3H792.2M794.6,519.7V538.2M787.1,519.7H802.1M787.1,538.2H802.1M804.4,519.2V538.3M796.9,519.2H811.9M796.9,538.3H811.9M814.2,535.6V556.0M806.7,535.6H821.7M806.7,556.0H821.7M824.1,522.6V542.0M816.6,522.6H831.6M816.6,542.0H831.6M833.9,525.4V544.9M826.4,525.4H841.4M826.4,544.9H841.4M843.8,531.1V549.5M836.3,531.1H851.3M836.3,549.5H851.3M853.6,523.6V545.0M846.1,523.6H861.1M846.1,545.0H861.1M863.4,525.6V546.4M855.9,525.6H870.9M855.9,546.4H870.9M873.3,521.6V544.1M865.8,521.6H880.8M865.8,544.1H880.8M883.1,512.7V535.0M875.6,512.7H890.6M875.6,535.0H890.6M893.0,531.0V550.8M885.5,531.0H900.5M885.5,550.8H900.5M902.8,521.0V545.4M895.3,521.0H910.3M895.3,545.4H910.3M912.6,510.3V528.5M905.1,510.3H920.1M905.1,528.5H920.1M922.5,523.0V544.0M915.0,523.0H930.0M915.0,544.0H930.0M932.3,516.6V536.7M924.8,516.6H939.8M924.8,536.7H939.8M942.2,516.8V537.8M934.7,516.8H949.7M934.7,537.8H949.7M952.0,524.8V543.8M944.5,524.8H959.5M944.5,543.8H959.5" stroke="#141414" stroke-width="2.4" fill="none"/>
<circle cx="174.64" cy="537.03" r="6.2" fill="#fff" stroke="#141414" stroke-width="2.8"/>
<circle cx="184.48" cy="537.32" r="6.2" fill="#fff" stroke="#141414" stroke-width="2.8"/>
<circle cx="194.32" cy="532.85" r="6.2" fill="#fff" stroke="#141414" stroke-width="2.8"/>
<circle cx="204.16" cy="533.68" r="6.2" fill="#fff" stroke="#141414" stroke-width="2.8"/>
<circle cx="214" cy="536.5" r="6.2" fill="#fff" stroke="#141414" stroke-width="2.8"/>
<circle cx="223.84" cy="533.89" r="6.2" fill="#fff" stroke="#141414" stroke-width="2.8"/>
<circle cx="233.68" cy="541.87" r="6.2" fill="#fff" stroke="#141414" stroke-width="2.8"/>
<circle cx="243.52" cy="535.18" r="6.2" fill="#fff" stroke="#141414" stroke-width="2.8"/>
<circle cx="253.36" cy="528.65" r="6.2" fill="#fff" stroke="#141414" stroke-width="2.8"/>
<circle cx="263.2" cy="532.29" r="6.2" fill="#fff" stroke="#141414" stroke-width="2.8"/>
<circle cx="273.04" cy="529.65" r="6.2" fill="#fff" stroke="#141414" stroke-width="2.8"/>
<circle cx="282.88" cy="536.99" r="6.2" fill="#fff" stroke="#141414" stroke-width="2.8"/>
<circle cx="292.72" cy="530.54" r="6.2" fill="#fff" stroke="#141414" stroke-width="2.8"/>
<circle cx="302.56" cy="533.99" r="6.2" fill="#fff" stroke="#141414" stroke-width="2.8"/>
<circle cx="312.4" cy="535.48" r="6.2" fill="#fff" stroke="#141414" stroke-width="2.8"/>
<circle cx="322.24" cy="535.86" r="6.2" fill="#fff" stroke="#141414" stroke-width="2.8"/>
<circle cx="332.08" cy="541.04" r="6.2" fill="#fff" stroke="#141414" stroke-width="2.8"/>
<circle cx="341.92" cy="539.78" r="6.2" fill="#fff" stroke="#141414" stroke-width="2.8"/>
<circle cx="351.76" cy="546.76" r="6.2" fill="#fff" stroke="#141414" stroke-width="2.8"/>
<circle cx="361.6" cy="573.28" r="6.2" fill="#fff" stroke="#141414" stroke-width="2.8"/>
<circle cx="371.44" cy="574.26" r="6.2" fill="#fff" stroke="#141414" stroke-width="2.8"/>
<circle cx="381.28" cy="584.59" r="6.2" fill="#fff" stroke="#141414" stroke-width="2.8"/>
<circle cx="391.12" cy="592.97" r="6.2" fill="#fff" stroke="#141414" stroke-width="2.8"/>
<circle cx="400.96" cy="592.97" r="6.2" fill="#fff" stroke="#141414" stroke-width="2.8"/>
<circle cx="410.8" cy="598.69" r="6.2" fill="#fff" stroke="#141414" stroke-width="2.8"/>
<circle cx="420.64" cy="594.92" r="6.2" fill="#fff" stroke="#141414" stroke-width="2.8"/>
<circle cx="430.48" cy="600.09" r="6.2" fill="#fff" stroke="#141414" stroke-width="2.8"/>
<circle cx="440.32" cy="590.87" r="6.2" fill="#fff" stroke="#141414" stroke-width="2.8"/>
<circle cx="450.16" cy="584.45" r="6.2" fill="#fff" stroke="#141414" stroke-width="2.8"/>
<circle cx="460" cy="578.87" r="6.2" fill="#fff" stroke="#141414" stroke-width="2.8"/>
<circle cx="469.84" cy="566.02" r="6.2" fill="#fff" stroke="#141414" stroke-width="2.8"/>
<circle cx="479.68" cy="550.39" r="6.2" fill="#fff" stroke="#141414" stroke-width="2.8"/>
<circle cx="489.52" cy="535.59" r="6.2" fill="#fff" stroke="#141414" stroke-width="2.8"/>
<circle cx="499.36" cy="528.61" r="6.2" fill="#fff" stroke="#141414" stroke-width="2.8"/>
<circle cx="509.2" cy="524.53" r="6.2" fill="#fff" stroke="#141414" stroke-width="2.8"/>
<circle cx="519.04" cy="530.29" r="6.2" fill="#fff" stroke="#141414" stroke-width="2.8"/>
<circle cx="528.88" cy="519.72" r="6.2" fill="#fff" stroke="#141414" stroke-width="2.8"/>
<circle cx="538.72" cy="526.32" r="6.2" fill="#fff" stroke="#141414" stroke-width="2.8"/>
<circle cx="548.56" cy="536.01" r="6.2" fill="#fff" stroke="#141414" stroke-width="2.8"/>
<circle cx="558.4" cy="525.99" r="6.2" fill="#fff" stroke="#141414" stroke-width="2.8"/>
<circle cx="568.24" cy="531.77" r="6.2" fill="#fff" stroke="#141414" stroke-width="2.8"/>
<circle cx="578.08" cy="534.15" r="6.2" fill="#fff" stroke="#141414" stroke-width="2.8"/>
<circle cx="587.92" cy="539.29" r="6.2" fill="#fff" stroke="#141414" stroke-width="2.8"/>
<circle cx="597.76" cy="536.83" r="6.2" fill="#fff" stroke="#141414" stroke-width="2.8"/>
<circle cx="607.6" cy="528.98" r="6.2" fill="#fff" stroke="#141414" stroke-width="2.8"/>
<circle cx="617.44" cy="530.47" r="6.2" fill="#fff" stroke="#141414" stroke-width="2.8"/>
<circle cx="627.28" cy="530.96" r="6.2" fill="#fff" stroke="#141414" stroke-width="2.8"/>
<circle cx="637.12" cy="526.56" r="6.2" fill="#fff" stroke="#141414" stroke-width="2.8"/>
<circle cx="646.96" cy="532.74" r="6.2" fill="#fff" stroke="#141414" stroke-width="2.8"/>
<circle cx="656.8" cy="535.49" r="6.2" fill="#fff" stroke="#141414" stroke-width="2.8"/>
<circle cx="666.64" cy="530.55" r="6.2" fill="#fff" stroke="#141414" stroke-width="2.8"/>
<circle cx="676.48" cy="532.46" r="6.2" fill="#fff" stroke="#141414" stroke-width="2.8"/>
<circle cx="686.32" cy="528.36" r="6.2" fill="#fff" stroke="#141414" stroke-width="2.8"/>
<circle cx="696.16" cy="535.96" r="6.2" fill="#fff" stroke="#141414" stroke-width="2.8"/>
<circle cx="706" cy="520.85" r="6.2" fill="#fff" stroke="#141414" stroke-width="2.8"/>
<circle cx="715.84" cy="526.55" r="6.2" fill="#fff" stroke="#141414" stroke-width="2.8"/>
<circle cx="725.68" cy="525.89" r="6.2" fill="#fff" stroke="#141414" stroke-width="2.8"/>
<circle cx="735.52" cy="524.42" r="6.2" fill="#fff" stroke="#141414" stroke-width="2.8"/>
<circle cx="745.36" cy="536.79" r="6.2" fill="#fff" stroke="#141414" stroke-width="2.8"/>
<circle cx="755.2" cy="530" r="6.2" fill="#fff" stroke="#141414" stroke-width="2.8"/>
<circle cx="765.04" cy="538.74" r="6.2" fill="#fff" stroke="#141414" stroke-width="2.8"/>
<circle cx="774.88" cy="544.54" r="6.2" fill="#fff" stroke="#141414" stroke-width="2.8"/>
<circle cx="784.72" cy="535.47" r="6.2" fill="#fff" stroke="#141414" stroke-width="2.8"/>
<circle cx="794.56" cy="528.95" r="6.2" fill="#fff" stroke="#141414" stroke-width="2.8"/>
<circle cx="804.4" cy="528.72" r="6.2" fill="#fff" stroke="#141414" stroke-width="2.8"/>
<circle cx="814.24" cy="545.78" r="6.2" fill="#fff" stroke="#141414" stroke-width="2.8"/>
<circle cx="824.08" cy="532.26" r="6.2" fill="#fff" stroke="#141414" stroke-width="2.8"/>
<circle cx="833.92" cy="535.13" r="6.2" fill="#fff" stroke="#141414" stroke-width="2.8"/>
<circle cx="843.76" cy="540.3" r="6.2" fill="#fff" stroke="#141414" stroke-width="2.8"/>
<circle cx="853.6" cy="534.28" r="6.2" fill="#fff" stroke="#141414" stroke-width="2.8"/>
<circle cx="863.44" cy="536" r="6.2" fill="#fff" stroke="#141414" stroke-width="2.8"/>
<circle cx="873.28" cy="532.84" r="6.2" fill="#fff" stroke="#141414" stroke-width="2.8"/>
<circle cx="883.12" cy="523.85" r="6.2" fill="#fff" stroke="#141414" stroke-width="2.8"/>
<circle cx="892.96" cy="540.9" r="6.2" fill="#fff" stroke="#141414" stroke-width="2.8"/>
<circle cx="902.8" cy="533.18" r="6.2" fill="#fff" stroke="#141414" stroke-width="2.8"/>
<circle cx="912.64" cy="519.38" r="6.2" fill="#fff" stroke="#141414" stroke-width="2.8"/>
<circle cx="922.48" cy="533.54" r="6.2" fill="#fff" stroke="#141414" stroke-width="2.8"/>
<circle cx="932.32" cy="526.62" r="6.2" fill="#fff" stroke="#141414" stroke-width="2.8"/>
<circle cx="942.16" cy="527.3" r="6.2" fill="#fff" stroke="#141414" stroke-width="2.8"/>
<circle cx="952" cy="534.29" r="6.2" fill="#fff" stroke="#141414" stroke-width="2.8"/>
<path d="M174.6,525.4V549.1M167.1,525.4H182.1M167.1,549.1H182.1M184.5,528.5V549.2M177.0,528.5H192.0M177.0,549.2H192.0M194.3,523.8V546.0M186.8,523.8H201.8M186.8,546.0H201.8M204.2,528.2V546.4M196.7,528.2H211.7M196.7,546.4H211.7M214.0,528.7V547.2M206.5,528.7H221.5M206.5,547.2H221.5M223.8,527.6V547.0M216.3,527.6H231.3M216.3,547.0H231.3M233.7,523.6V548.4M226.2,523.6H241.2M226.2,548.4H241.2M243.5,524.0V543.5M236.0,524.0H251.0M236.0,543.5H251.0M253.4,520.5V544.0M245.9,520.5H260.9M245.9,544.0H260.9M263.2,520.5V545.1M255.7,520.5H270.7M255.7,545.1H270.7M273.0,520.4V545.2M265.5,520.4H280.5M265.5,545.2H280.5M282.9,516.9V537.5M275.4,516.9H290.4M275.4,537.5H290.4M292.7,518.9V539.5M285.2,518.9H300.2M285.2,539.5H300.2M302.6,519.4V541.2M295.1,519.4H310.1M295.1,541.2H310.1M312.4,523.1V546.7M304.9,523.1H319.9M304.9,546.7H319.9M322.2,526.1V545.0M314.7,526.1H329.7M314.7,545.0H329.7M332.1,523.2V546.6M324.6,523.2H339.6M324.6,546.6H339.6M341.9,531.3V555.0M334.4,531.3H349.4M334.4,555.0H349.4M351.8,540.4V564.6M344.3,540.4H359.3M344.3,564.6H359.3M361.6,575.4V593.8M354.1,575.4H369.1M354.1,593.8H369.1M371.4,595.1V619.9M363.9,595.1H378.9M363.9,619.9H378.9M381.3,615.7V634.5M373.8,615.7H388.8M373.8,634.5H388.8M391.1,616.9V637.4M383.6,616.9H398.6M383.6,637.4H398.6M401.0,619.0V641.4M393.5,619.0H408.5M393.5,641.4H408.5M410.8,613.8V638.3M403.3,613.8H418.3M403.3,638.3H418.3M420.6,614.8V635.3M413.1,614.8H428.1M413.1,635.3H428.1M430.5,612.8V637.4M423.0,612.8H438.0M423.0,637.4H438.0M440.3,606.8V628.8M432.8,606.8H447.8M432.8,628.8H447.8M450.2,579.6V599.9M442.7,579.6H457.7M442.7,599.9H457.7M460.0,562.0V582.3M452.5,562.0H467.5M452.5,582.3H467.5M469.8,535.4V554.8M462.3,535.4H477.3M462.3,554.8H477.3M479.7,530.7V549.4M472.2,530.7H487.2M472.2,549.4H487.2M489.5,514.8V534.0M482.0,514.8H497.0M482.0,534.0H497.0M499.4,510.9V533.8M491.9,510.9H506.9M491.9,533.8H506.9M509.2,508.0V533.1M501.7,508.0H516.7M501.7,533.1H516.7M519.0,517.3V536.6M511.5,517.3H526.5M511.5,536.6H526.5M528.9,513.8V532.3M521.4,513.8H536.4M521.4,532.3H536.4M538.7,515.5V540.6M531.2,515.5H546.2M531.2,540.6H546.2M548.6,520.5V542.3M541.1,520.5H556.1M541.1,542.3H556.1M558.4,517.6V538.5M550.9,517.6H565.9M550.9,538.5H565.9M568.2,517.0V536.8M560.7,517.0H575.7M560.7,536.8H575.7M578.1,523.2V545.5M570.6,523.2H585.6M570.6,545.5H585.6M587.9,522.4V546.3M580.4,522.4H595.4M580.4,546.3H595.4M597.8,519.9V541.2M590.3,519.9H605.3M590.3,541.2H605.3M607.6,521.3V542.4M600.1,521.3H615.1M600.1,542.4H615.1M617.4,517.1V535.6M609.9,517.1H624.9M609.9,535.6H624.9M627.3,514.7V539.2M619.8,514.7H634.8M619.8,539.2H634.8M637.1,521.4V539.8M629.6,521.4H644.6M629.6,539.8H644.6M647.0,524.8V546.4M639.5,524.8H654.5M639.5,546.4H654.5M656.8,520.2V544.2M649.3,520.2H664.3M649.3,544.2H664.3M666.6,524.8V543.9M659.1,524.8H674.1M659.1,543.9H674.1M676.5,520.2V543.5M669.0,520.2H684.0M669.0,543.5H684.0M686.3,516.8V541.6M678.8,516.8H693.8M678.8,541.6H693.8M696.2,520.5V543.1M688.7,520.5H703.7M688.7,543.1H703.7M706.0,512.6V536.2M698.5,512.6H713.5M698.5,536.2H713.5M715.8,518.0V536.9M708.3,518.0H723.3M708.3,536.9H723.3M725.7,519.1V540.3M718.2,519.1H733.2M718.2,540.3H733.2M735.5,517.9V537.1M728.0,517.9H743.0M728.0,537.1H743.0M745.4,521.6V545.7M737.9,521.6H752.9M737.9,545.7H752.9M755.2,517.4V537.6M747.7,517.4H762.7M747.7,537.6H762.7M765.0,523.5V544.9M757.5,523.5H772.5M757.5,544.9H772.5M774.9,527.2V552.3M767.4,527.2H782.4M767.4,552.3H782.4M784.7,517.8V541.9M777.2,517.8H792.2M777.2,541.9H792.2M794.6,513.3V538.3M787.1,513.3H802.1M787.1,538.3H802.1M804.4,518.1V539.4M796.9,518.1H811.9M796.9,539.4H811.9M814.2,518.5V540.1M806.7,518.5H821.7M806.7,540.1H821.7M824.1,521.5V544.7M816.6,521.5H831.6M816.6,544.7H831.6M833.9,521.6V543.1M826.4,521.6H841.4M826.4,543.1H841.4M843.8,527.2V547.4M836.3,527.2H851.3M836.3,547.4H851.3M853.6,526.1V547.1M846.1,526.1H861.1M846.1,547.1H861.1M863.4,525.2V544.3M855.9,525.2H870.9M855.9,544.3H870.9M873.3,519.5V540.3M865.8,519.5H880.8M865.8,540.3H880.8M883.1,510.1V535.1M875.6,510.1H890.6M875.6,535.1H890.6M893.0,512.6V537.4M885.5,512.6H900.5M885.5,537.4H900.5M902.8,516.2V538.8M895.3,516.2H910.3M895.3,538.8H910.3M912.6,512.5V534.1M905.1,512.5H920.1M905.1,534.1H920.1M922.5,517.2V537.8M915.0,517.2H930.0M915.0,537.8H930.0M932.3,518.8V537.6M924.8,518.8H939.8M924.8,537.6H939.8M942.2,519.8V539.9M934.7,519.8H949.7M934.7,539.9H949.7M952.0,516.4V540.0M944.5,516.4H959.5M944.5,540.0H959.5" stroke="#141414" stroke-width="2.4" fill="none"/>
<circle cx="174.64" cy="537.27" r="6.2" fill="#8c8c8c" stroke="#141414" stroke-width="2.8"/>
<circle cx="184.48" cy="538.8" r="6.2" fill="#8c8c8c" stroke="#141414" stroke-width="2.8"/>
<circle cx="194.32" cy="534.89" r="6.2" fill="#8c8c8c" stroke="#141414" stroke-width="2.8"/>
<circle cx="204.16" cy="537.27" r="6.2" fill="#8c8c8c" stroke="#141414" stroke-width="2.8"/>
<circle cx="214" cy="537.97" r="6.2" fill="#8c8c8c" stroke="#141414" stroke-width="2.8"/>
<circle cx="223.84" cy="537.27" r="6.2" fill="#8c8c8c" stroke="#141414" stroke-width="2.8"/>
<circle cx="233.68" cy="536.01" r="6.2" fill="#8c8c8c" stroke="#141414" stroke-width="2.8"/>
<circle cx="243.52" cy="533.78" r="6.2" fill="#8c8c8c" stroke="#141414" stroke-width="2.8"/>
<circle cx="253.36" cy="532.24" r="6.2" fill="#8c8c8c" stroke="#141414" stroke-width="2.8"/>
<circle cx="263.2" cy="532.8" r="6.2" fill="#8c8c8c" stroke="#141414" stroke-width="2.8"/>
<circle cx="273.04" cy="532.8" r="6.2" fill="#8c8c8c" stroke="#141414" stroke-width="2.8"/>
<circle cx="282.88" cy="527.22" r="6.2" fill="#8c8c8c" stroke="#141414" stroke-width="2.8"/>
<circle cx="292.72" cy="529.17" r="6.2" fill="#8c8c8c" stroke="#141414" stroke-width="2.8"/>
<circle cx="302.56" cy="530.29" r="6.2" fill="#8c8c8c" stroke="#141414" stroke-width="2.8"/>
<circle cx="312.4" cy="534.89" r="6.2" fill="#8c8c8c" stroke="#141414" stroke-width="2.8"/>
<circle cx="322.24" cy="535.59" r="6.2" fill="#8c8c8c" stroke="#141414" stroke-width="2.8"/>
<circle cx="332.08" cy="534.89" r="6.2" fill="#8c8c8c" stroke="#141414" stroke-width="2.8"/>
<circle cx="341.92" cy="543.13" r="6.2" fill="#8c8c8c" stroke="#141414" stroke-width="2.8"/>
<circle cx="351.76" cy="552.48" r="6.2" fill="#8c8c8c" stroke="#141414" stroke-width="2.8"/>
<circle cx="361.6" cy="584.59" r="6.2" fill="#8c8c8c" stroke="#141414" stroke-width="2.8"/>
<circle cx="371.44" cy="607.49" r="6.2" fill="#8c8c8c" stroke="#141414" stroke-width="2.8"/>
<circle cx="381.28" cy="625.08" r="6.2" fill="#8c8c8c" stroke="#141414" stroke-width="2.8"/>
<circle cx="391.12" cy="627.17" r="6.2" fill="#8c8c8c" stroke="#141414" stroke-width="2.8"/>
<circle cx="400.96" cy="630.24" r="6.2" fill="#8c8c8c" stroke="#141414" stroke-width="2.8"/>
<circle cx="410.8" cy="626.05" r="6.2" fill="#8c8c8c" stroke="#141414" stroke-width="2.8"/>
<circle cx="420.64" cy="625.08" r="6.2" fill="#8c8c8c" stroke="#141414" stroke-width="2.8"/>
<circle cx="430.48" cy="625.08" r="6.2" fill="#8c8c8c" stroke="#141414" stroke-width="2.8"/>
<circle cx="440.32" cy="617.82" r="6.2" fill="#8c8c8c" stroke="#141414" stroke-width="2.8"/>
<circle cx="450.16" cy="589.76" r="6.2" fill="#8c8c8c" stroke="#141414" stroke-width="2.8"/>
<circle cx="460" cy="572.17" r="6.2" fill="#8c8c8c" stroke="#141414" stroke-width="2.8"/>
<circle cx="469.84" cy="545.08" r="6.2" fill="#8c8c8c" stroke="#141414" stroke-width="2.8"/>
<circle cx="479.68" cy="540.06" r="6.2" fill="#8c8c8c" stroke="#141414" stroke-width="2.8"/>
<circle cx="489.52" cy="524.42" r="6.2" fill="#8c8c8c" stroke="#141414" stroke-width="2.8"/>
<circle cx="499.36" cy="522.33" r="6.2" fill="#8c8c8c" stroke="#141414" stroke-width="2.8"/>
<circle cx="509.2" cy="520.52" r="6.2" fill="#8c8c8c" stroke="#141414" stroke-width="2.8"/>
<circle cx="519.04" cy="526.94" r="6.2" fill="#8c8c8c" stroke="#141414" stroke-width="2.8"/>
<circle cx="528.88" cy="523.03" r="6.2" fill="#8c8c8c" stroke="#141414" stroke-width="2.8"/>
<circle cx="538.72" cy="528.05" r="6.2" fill="#8c8c8c" stroke="#141414" stroke-width="2.8"/>
<circle cx="548.56" cy="531.4" r="6.2" fill="#8c8c8c" stroke="#141414" stroke-width="2.8"/>
<circle cx="558.4" cy="528.05" r="6.2" fill="#8c8c8c" stroke="#141414" stroke-width="2.8"/>
<circle cx="568.24" cy="526.94" r="6.2" fill="#8c8c8c" stroke="#141414" stroke-width="2.8"/>
<circle cx="578.08" cy="534.34" r="6.2" fill="#8c8c8c" stroke="#141414" stroke-width="2.8"/>
<circle cx="587.92" cy="534.34" r="6.2" fill="#8c8c8c" stroke="#141414" stroke-width="2.8"/>
<circle cx="597.76" cy="530.57" r="6.2" fill="#8c8c8c" stroke="#141414" stroke-width="2.8"/>
<circle cx="607.6" cy="531.82" r="6.2" fill="#8c8c8c" stroke="#141414" stroke-width="2.8"/>
<circle cx="617.44" cy="526.38" r="6.2" fill="#8c8c8c" stroke="#141414" stroke-width="2.8"/>
<circle cx="627.28" cy="526.94" r="6.2" fill="#8c8c8c" stroke="#141414" stroke-width="2.8"/>
<circle cx="637.12" cy="530.57" r="6.2" fill="#8c8c8c" stroke="#141414" stroke-width="2.8"/>
<circle cx="646.96" cy="535.59" r="6.2" fill="#8c8c8c" stroke="#141414" stroke-width="2.8"/>
<circle cx="656.8" cy="532.24" r="6.2" fill="#8c8c8c" stroke="#141414" stroke-width="2.8"/>
<circle cx="666.64" cy="534.34" r="6.2" fill="#8c8c8c" stroke="#141414" stroke-width="2.8"/>
<circle cx="676.48" cy="531.82" r="6.2" fill="#8c8c8c" stroke="#141414" stroke-width="2.8"/>
<circle cx="686.32" cy="529.17" r="6.2" fill="#8c8c8c" stroke="#141414" stroke-width="2.8"/>
<circle cx="696.16" cy="531.82" r="6.2" fill="#8c8c8c" stroke="#141414" stroke-width="2.8"/>
<circle cx="706" cy="524.42" r="6.2" fill="#8c8c8c" stroke="#141414" stroke-width="2.8"/>
<circle cx="715.84" cy="527.5" r="6.2" fill="#8c8c8c" stroke="#141414" stroke-width="2.8"/>
<circle cx="725.68" cy="529.73" r="6.2" fill="#8c8c8c" stroke="#141414" stroke-width="2.8"/>
<circle cx="735.52" cy="527.5" r="6.2" fill="#8c8c8c" stroke="#141414" stroke-width="2.8"/>
<circle cx="745.36" cy="533.64" r="6.2" fill="#8c8c8c" stroke="#141414" stroke-width="2.8"/>
<circle cx="755.2" cy="527.5" r="6.2" fill="#8c8c8c" stroke="#141414" stroke-width="2.8"/>
<circle cx="765.04" cy="534.2" r="6.2" fill="#8c8c8c" stroke="#141414" stroke-width="2.8"/>
<circle cx="774.88" cy="539.78" r="6.2" fill="#8c8c8c" stroke="#141414" stroke-width="2.8"/>
<circle cx="784.72" cy="529.87" r="6.2" fill="#8c8c8c" stroke="#141414" stroke-width="2.8"/>
<circle cx="794.56" cy="525.82" r="6.2" fill="#8c8c8c" stroke="#141414" stroke-width="2.8"/>
<circle cx="804.4" cy="528.75" r="6.2" fill="#8c8c8c" stroke="#141414" stroke-width="2.8"/>
<circle cx="814.24" cy="529.31" r="6.2" fill="#8c8c8c" stroke="#141414" stroke-width="2.8"/>
<circle cx="824.08" cy="533.08" r="6.2" fill="#8c8c8c" stroke="#141414" stroke-width="2.8"/>
<circle cx="833.92" cy="532.38" r="6.2" fill="#8c8c8c" stroke="#141414" stroke-width="2.8"/>
<circle cx="843.76" cy="537.27" r="6.2" fill="#8c8c8c" stroke="#141414" stroke-width="2.8"/>
<circle cx="853.6" cy="536.57" r="6.2" fill="#8c8c8c" stroke="#141414" stroke-width="2.8"/>
<circle cx="863.44" cy="534.75" r="6.2" fill="#8c8c8c" stroke="#141414" stroke-width="2.8"/>
<circle cx="873.28" cy="529.87" r="6.2" fill="#8c8c8c" stroke="#141414" stroke-width="2.8"/>
<circle cx="883.12" cy="522.61" r="6.2" fill="#8c8c8c" stroke="#141414" stroke-width="2.8"/>
<circle cx="892.96" cy="524.98" r="6.2" fill="#8c8c8c" stroke="#141414" stroke-width="2.8"/>
<circle cx="902.8" cy="527.5" r="6.2" fill="#8c8c8c" stroke="#141414" stroke-width="2.8"/>
<circle cx="912.64" cy="523.31" r="6.2" fill="#8c8c8c" stroke="#141414" stroke-width="2.8"/>
<circle cx="922.48" cy="527.5" r="6.2" fill="#8c8c8c" stroke="#141414" stroke-width="2.8"/>
<circle cx="932.32" cy="528.19" r="6.2" fill="#8c8c8c" stroke="#141414" stroke-width="2.8"/>
<circle cx="942.16" cy="529.87" r="6.2" fill="#8c8c8c" stroke="#141414" stroke-width="2.8"/>
<circle cx="952" cy="528.19" r="6.2" fill="#8c8c8c" stroke="#141414" stroke-width="2.8"/>
<text x="2.1" y="875.44" font-size="45.65" textLength="34.6" lengthAdjust="spacingAndGlyphs" fill="#141414">C</text>
<circle cx="176.6" cy="863.6" r="6.3" fill="#8c8c8c" stroke="#141414" stroke-width="2.8"/>
<circle cx="176.6" cy="892.7" r="6.3" fill="#fff" stroke="#141414" stroke-width="2.8"/>
<text x="187.73" y="873" font-size="29.96" textLength="33.32" lengthAdjust="spacing" fill="#141414">P1</text>
<text x="187.79" y="905" font-size="29.24" textLength="37.09" lengthAdjust="spacing" fill="#141414">P2</text>
<text x="269.77" y="884.6" font-size="29.82" textLength="44.28" lengthAdjust="spacingAndGlyphs" fill="#141414">NA</text>
<text x="404.74" y="864.5" font-size="29.82" textLength="66.29" lengthAdjust="spacing" fill="#141414">Praz</text>
<line x1="364.7" y1="888.3" x2="561" y2="888.3" stroke="#8c8c8c" stroke-width="4.4" stroke-linecap="butt"/>
<line x1="266.4" y1="905.5" x2="561" y2="905.5" stroke="#141414" stroke-width="4.9" stroke-linecap="butt"/>
<line x1="154.5" y1="896.1" x2="154.5" y2="1109.2" stroke="#141414" stroke-width="3.9" stroke-linecap="butt"/>
<line x1="127.5" y1="898" x2="154.5" y2="898" stroke="#141414" stroke-width="3.8" stroke-linecap="butt"/>
<line x1="127.5" y1="967.6" x2="154.5" y2="967.6" stroke="#141414" stroke-width="3.8" stroke-linecap="butt"/>
<line x1="127.5" y1="1037.1" x2="154.5" y2="1037.1" stroke="#141414" stroke-width="3.8" stroke-linecap="butt"/>
<line x1="127.5" y1="1107.3" x2="154.5" y2="1107.3" stroke="#141414" stroke-width="3.8" stroke-linecap="butt"/>
<line x1="165.85" y1="1119.6" x2="956.45" y2="1119.6" stroke="#141414" stroke-width="3.9" stroke-linecap="butt"/>
<line x1="167.75" y1="1119.6" x2="167.75" y2="1139.1" stroke="#141414" stroke-width="3.8" stroke-linecap="butt"/>
<line x1="266.1" y1="1119.6" x2="266.1" y2="1139.1" stroke="#141414" stroke-width="3.8" stroke-linecap="butt"/>
<line x1="364.45" y1="1119.6" x2="364.45" y2="1139.1" stroke="#141414" stroke-width="3.8" stroke-linecap="butt"/>
<line x1="462.8" y1="1119.6" x2="462.8" y2="1139.1" stroke="#141414" stroke-width="3.8" stroke-linecap="butt"/>
<line x1="561.15" y1="1119.6" x2="561.15" y2="1139.1" stroke="#141414" stroke-width="3.8" stroke-linecap="butt"/>
<line x1="659.5" y1="1119.6" x2="659.5" y2="1139.1" stroke="#141414" stroke-width="3.8" stroke-linecap="butt"/>
<line x1="757.85" y1="1119.6" x2="757.85" y2="1139.1" stroke="#141414" stroke-width="3.8" stroke-linecap="butt"/>
<line x1="856.2" y1="1119.6" x2="856.2" y2="1139.1" stroke="#141414" stroke-width="3.8" stroke-linecap="butt"/>
<line x1="954.55" y1="1119.6" x2="954.55" y2="1139.1" stroke="#141414" stroke-width="3.8" stroke-linecap="butt"/>
<text x="74.86" y="910.1" font-size="29.82" textLength="51.59" lengthAdjust="spacing" fill="#141414">150</text>
<text x="74.86" y="979.1" font-size="29.82" textLength="51.59" lengthAdjust="spacing" fill="#141414">100</text>
<text x="92.11" y="1048.6" font-size="29.82" textLength="34.38" lengthAdjust="spacing" fill="#141414">50</text>
<text x="110.67" y="1118.79" font-size="30.67" textLength="15.81" lengthAdjust="spacing" fill="#141414">0</text>
<text transform="translate(55.4,1112.26) rotate(-90)" x="0" y="0" font-size="29.82" textLength="206.17" lengthAdjust="spacing" fill="#141414">Norm.Amp (%)</text>
<text x="146.72" y="1168.22" font-size="28.39" textLength="27.96" lengthAdjust="spacing" fill="#141414">-5</text>
<text x="257.74" y="1165.84" font-size="26.43" textLength="14.98" lengthAdjust="spacing" fill="#141414">0</text>
<text x="357.46" y="1167.01" font-size="28.53" textLength="16.72" lengthAdjust="spacing" fill="#141414">5</text>
<text x="444.74" y="1170.01" font-size="28.83" textLength="33.61" lengthAdjust="spacing" fill="#141414">10</text>
<text x="543.28" y="1168.2" font-size="29.53" textLength="33.27" lengthAdjust="spacing" fill="#141414">15</text>
<text x="640.73" y="1171.21" font-size="29.4" textLength="34.94" lengthAdjust="spacing" fill="#141414">20</text>
<text x="739.83" y="1171.21" font-size="29.4" textLength="34.71" lengthAdjust="spacing" fill="#141414">25</text>
<text x="839.35" y="1171.22" font-size="27.99" textLength="33.46" lengthAdjust="spacing" fill="#141414">30</text>
<text x="929.79" y="1169.5" font-size="29.54" textLength="33.66" lengthAdjust="spacing" fill="#141414">35</text>
<text x="493.33" y="1212" font-size="29.67" textLength="150.63" lengthAdjust="spacing" fill="#141414">Time (min)</text>
<path d="M177.6,955.0V977.6M170.1,955.0H185.1M170.1,977.6H185.1M187.4,962.8V981.3M179.9,962.8H194.9M179.9,981.3H194.9M197.3,951.8V970.4M189.8,951.8H204.8M189.8,970.4H204.8M207.1,960.1V979.7M199.6,960.1H214.6M199.6,979.7H214.6M216.9,961.3V980.6M209.4,961.3H224.4M209.4,980.6H224.4M226.8,973.0V993.5M219.3,973.0H234.3M219.3,993.5H234.3M236.6,959.9V978.4M229.1,959.9H244.1M229.1,978.4H244.1M246.4,957.7V975.9M238.9,957.7H253.9M238.9,975.9H253.9M256.3,967.1V986.3M248.8,967.1H263.8M248.8,986.3H263.8M266.1,962.6V981.4M258.6,962.6H273.6M258.6,981.4H273.6M275.9,959.2V979.9M268.4,959.2H283.4M268.4,979.9H283.4M285.8,968.1V986.4M278.3,968.1H293.3M278.3,986.4H293.3M295.6,960.6V984.8M288.1,960.6H303.1M288.1,984.8H303.1M305.4,954.9V977.3M297.9,954.9H312.9M297.9,977.3H312.9M315.3,966.2V985.4M307.8,966.2H322.8M307.8,985.4H322.8M325.1,964.3V984.2M317.6,964.3H332.6M317.6,984.2H332.6M334.9,953.8V974.4M327.4,953.8H342.4M327.4,974.4H342.4M344.8,957.6V978.2M337.3,957.6H352.3M337.3,978.2H352.3M354.6,963.3V982.3M347.1,963.3H362.1M347.1,982.3H362.1M364.5,985.9V1009.9M357.0,985.9H372.0M357.0,1009.9H372.0M374.3,1011.0V1036.1M366.8,1011.0H381.8M366.8,1036.1H381.8M384.1,1010.1V1031.5M376.6,1010.1H391.6M376.6,1031.5H391.6M394.0,1017.0V1038.5M386.5,1017.0H401.5M386.5,1038.5H401.5M403.8,1018.4V1037.1M396.3,1018.4H411.3M396.3,1037.1H411.3M413.6,1013.6V1032.4M406.1,1013.6H421.1M406.1,1032.4H421.1M423.5,1015.0V1035.5M416.0,1015.0H431.0M416.0,1035.5H431.0M433.3,1017.8V1037.8M425.8,1017.8H440.8M425.8,1037.8H440.8M443.1,1017.9V1041.8M435.6,1017.9H450.6M435.6,1041.8H450.6M453.0,1016.7V1036.0M445.5,1016.7H460.5M445.5,1036.0H460.5M462.8,1018.6V1036.9M455.3,1018.6H470.3M455.3,1036.9H470.3M472.6,1011.9V1036.7M465.1,1011.9H480.1M465.1,1036.7H480.1M482.5,1021.2V1043.0M475.0,1021.2H490.0M475.0,1043.0H490.0M492.3,1018.9V1038.0M484.8,1018.9H499.8M484.8,1038.0H499.8M502.1,1019.6V1041.5M494.6,1019.6H509.6M494.6,1041.5H509.6M512.0,1019.3V1037.6M504.5,1019.3H519.5M504.5,1037.6H519.5M521.8,1018.5V1040.4M514.3,1018.5H529.3M514.3,1040.4H529.3M531.6,1016.0V1040.9M524.1,1016.0H539.1M524.1,1040.9H539.1M541.5,1012.2V1036.4M534.0,1012.2H549.0M534.0,1036.4H549.0M551.3,1017.7V1040.7M543.8,1017.7H558.8M543.8,1040.7H558.8M561.2,1015.8V1035.8M553.7,1015.8H568.7M553.7,1035.8H568.7M571.0,1021.2V1041.9M563.5,1021.2H578.5M563.5,1041.9H578.5M580.8,1019.5V1038.8M573.3,1019.5H588.3M573.3,1038.8H588.3M590.7,1019.8V1043.3M583.2,1019.8H598.2M583.2,1043.3H598.2M600.5,1012.7V1034.5M593.0,1012.7H608.0M593.0,1034.5H608.0M610.3,1016.4V1040.0M602.8,1016.4H617.8M602.8,1040.0H617.8M620.2,1011.0V1031.4M612.7,1011.0H627.7M612.7,1031.4H627.7M630.0,1014.8V1034.5M622.5,1014.8H637.5M622.5,1034.5H637.5M639.8,1013.9V1037.7M632.3,1013.9H647.3M632.3,1037.7H647.3M649.7,1017.8V1042.8M642.2,1017.8H657.2M642.2,1042.8H657.2M659.5,1015.7V1039.8M652.0,1015.7H667.0M652.0,1039.8H667.0M669.3,1008.2V1032.0M661.8,1008.2H676.8M661.8,1032.0H676.8M679.2,979.6V1003.4M671.7,979.6H686.7M671.7,1003.4H686.7M689.0,976.5V999.8M681.5,976.5H696.5M681.5,999.8H696.5M698.8,967.7V987.4M691.3,967.7H706.3M691.3,987.4H706.3M708.7,963.9V985.6M701.2,963.9H716.2M701.2,985.6H716.2M718.5,952.5V973.2M711.0,952.5H726.0M711.0,973.2H726.0M728.3,956.0V974.3M720.8,956.0H735.8M720.8,974.3H735.8M738.2,952.2V970.5M730.7,952.2H745.7M730.7,970.5H745.7M748.0,964.6V984.7M740.5,964.6H755.5M740.5,984.7H755.5M757.9,950.3V970.3M750.4,950.3H765.4M750.4,970.3H765.4M767.7,956.0V979.0M760.2,956.0H775.2M760.2,979.0H775.2M777.5,963.6V988.4M770.0,963.6H785.0M770.0,988.4H785.0M787.4,962.2V983.4M779.9,962.2H794.9M779.9,983.4H794.9M797.2,955.0V979.7M789.7,955.0H804.7M789.7,979.7H804.7M807.0,947.5V972.6M799.5,947.5H814.5M799.5,972.6H814.5M816.9,959.8V984.6M809.4,959.8H824.4M809.4,984.6H824.4M826.7,960.0V980.7M819.2,960.0H834.2M819.2,980.7H834.2M836.5,955.8V975.5M829.0,955.8H844.0M829.0,975.5H844.0M846.4,957.9V977.6M838.9,957.9H853.9M838.9,977.6H853.9M856.2,952.7V972.2M848.7,952.7H863.7M848.7,972.2H863.7M866.0,962.4V981.9M858.5,962.4H873.5M858.5,981.9H873.5M875.9,964.5V987.0M868.4,964.5H883.4M868.4,987.0H883.4M885.7,953.3V977.7M878.2,953.3H893.2M878.2,977.7H893.2M895.5,951.4V975.4M888.0,951.4H903.0M888.0,975.4H903.0M905.4,959.9V981.4M897.9,959.9H912.9M897.9,981.4H912.9M915.2,959.4V982.1M907.7,959.4H922.7M907.7,982.1H922.7M925.0,957.2V980.9M917.5,957.2H932.5M917.5,980.9H932.5M934.9,959.9V978.7M927.4,959.9H942.4M927.4,978.7H942.4M944.7,960.7V983.4M937.2,960.7H952.2M937.2,983.4H952.2M954.6,958.1V982.6M947.1,958.1H962.1M947.1,982.6H962.1" stroke="#141414" stroke-width="2.4" fill="none"/>
<circle cx="177.59" cy="966.33" r="6.2" fill="#fff" stroke="#141414" stroke-width="2.8"/>
<circle cx="187.42" cy="972.05" r="6.2" fill="#fff" stroke="#141414" stroke-width="2.8"/>
<circle cx="197.26" cy="961.09" r="6.2" fill="#fff" stroke="#141414" stroke-width="2.8"/>
<circle cx="207.09" cy="969.94" r="6.2" fill="#fff" stroke="#141414" stroke-width="2.8"/>
<circle cx="216.93" cy="970.95" r="6.2" fill="#fff" stroke="#141414" stroke-width="2.8"/>
<circle cx="226.76" cy="983.25" r="6.2" fill="#fff" stroke="#141414" stroke-width="2.8"/>
<circle cx="236.6" cy="969.11" r="6.2" fill="#fff" stroke="#141414" stroke-width="2.8"/>
<circle cx="246.43" cy="966.78" r="6.2" fill="#fff" stroke="#141414" stroke-width="2.8"/>
<circle cx="256.27" cy="976.72" r="6.2" fill="#fff" stroke="#141414" stroke-width="2.8"/>
<circle cx="266.1" cy="972.02" r="6.2" fill="#fff" stroke="#141414" stroke-width="2.8"/>
<circle cx="275.94" cy="969.55" r="6.2" fill="#fff" stroke="#141414" stroke-width="2.8"/>
<circle cx="285.77" cy="977.28" r="6.2" fill="#fff" stroke="#141414" stroke-width="2.8"/>
<circle cx="295.61" cy="972.67" r="6.2" fill="#fff" stroke="#141414" stroke-width="2.8"/>
<circle cx="305.44" cy="966.09" r="6.2" fill="#fff" stroke="#141414" stroke-width="2.8"/>
<circle cx="315.28" cy="975.82" r="6.2" fill="#fff" stroke="#141414" stroke-width="2.8"/>
<circle cx="325.11" cy="974.22" r="6.2" fill="#fff" stroke="#141414" stroke-width="2.8"/>
<circle cx="334.95" cy="964.13" r="6.2" fill="#fff" stroke="#141414" stroke-width="2.8"/>
<circle cx="344.78" cy="967.9" r="6.2" fill="#fff" stroke="#141414" stroke-width="2.8"/>
<circle cx="354.62" cy="972.79" r="6.2" fill="#fff" stroke="#141414" stroke-width="2.8"/>
<circle cx="364.45" cy="997.91" r="6.2" fill="#fff" stroke="#141414" stroke-width="2.8"/>
<circle cx="374.29" cy="1023.58" r="6.2" fill="#fff" stroke="#141414" stroke-width="2.8"/>
<circle cx="384.12" cy="1020.79" r="6.2" fill="#fff" stroke="#141414" stroke-width="2.8"/>
<circle cx="393.96" cy="1027.77" r="6.2" fill="#fff" stroke="#141414" stroke-width="2.8"/>
<circle cx="403.79" cy="1027.77" r="6.2" fill="#fff" stroke="#141414" stroke-width="2.8"/>
<circle cx="413.62" cy="1023.02" r="6.2" fill="#fff" stroke="#141414" stroke-width="2.8"/>
<circle cx="423.46" cy="1025.25" r="6.2" fill="#fff" stroke="#141414" stroke-width="2.8"/>
<circle cx="433.3" cy="1027.77" r="6.2" fill="#fff" stroke="#141414" stroke-width="2.8"/>
<circle cx="443.13" cy="1029.86" r="6.2" fill="#fff" stroke="#141414" stroke-width="2.8"/>
<circle cx="452.97" cy="1026.37" r="6.2" fill="#fff" stroke="#141414" stroke-width="2.8"/>
<circle cx="462.8" cy="1027.77" r="6.2" fill="#fff" stroke="#141414" stroke-width="2.8"/>
<circle cx="472.64" cy="1024.28" r="6.2" fill="#fff" stroke="#141414" stroke-width="2.8"/>
<circle cx="482.47" cy="1032.09" r="6.2" fill="#fff" stroke="#141414" stroke-width="2.8"/>
<circle cx="492.31" cy="1028.46" r="6.2" fill="#fff" stroke="#141414" stroke-width="2.8"/>
<circle cx="502.14" cy="1030.56" r="6.2" fill="#fff" stroke="#141414" stroke-width="2.8"/>
<circle cx="511.98" cy="1028.46" r="6.2" fill="#fff" stroke="#141414" stroke-width="2.8"/>
<circle cx="521.81" cy="1029.44" r="6.2" fill="#fff" stroke="#141414" stroke-width="2.8"/>
<circle cx="531.64" cy="1028.46" r="6.2" fill="#fff" stroke="#141414" stroke-width="2.8"/>
<circle cx="541.48" cy="1024.28" r="6.2" fill="#fff" stroke="#141414" stroke-width="2.8"/>
<circle cx="551.32" cy="1029.16" r="6.2" fill="#fff" stroke="#141414" stroke-width="2.8"/>
<circle cx="561.15" cy="1025.81" r="6.2" fill="#fff" stroke="#141414" stroke-width="2.8"/>
<circle cx="570.99" cy="1031.53" r="6.2" fill="#fff" stroke="#141414" stroke-width="2.8"/>
<circle cx="580.82" cy="1029.16" r="6.2" fill="#fff" stroke="#141414" stroke-width="2.8"/>
<circle cx="590.65" cy="1031.53" r="6.2" fill="#fff" stroke="#141414" stroke-width="2.8"/>
<circle cx="600.49" cy="1023.58" r="6.2" fill="#fff" stroke="#141414" stroke-width="2.8"/>
<circle cx="610.33" cy="1028.18" r="6.2" fill="#fff" stroke="#141414" stroke-width="2.8"/>
<circle cx="620.16" cy="1021.21" r="6.2" fill="#fff" stroke="#141414" stroke-width="2.8"/>
<circle cx="630" cy="1024.7" r="6.2" fill="#fff" stroke="#141414" stroke-width="2.8"/>
<circle cx="639.83" cy="1025.81" r="6.2" fill="#fff" stroke="#141414" stroke-width="2.8"/>
<circle cx="649.67" cy="1030.28" r="6.2" fill="#fff" stroke="#141414" stroke-width="2.8"/>
<circle cx="659.5" cy="1027.77" r="6.2" fill="#fff" stroke="#141414" stroke-width="2.8"/>
<circle cx="669.34" cy="1020.09" r="6.2" fill="#fff" stroke="#141414" stroke-width="2.8"/>
<circle cx="679.17" cy="991.49" r="6.2" fill="#fff" stroke="#141414" stroke-width="2.8"/>
<circle cx="689.01" cy="988.14" r="6.2" fill="#fff" stroke="#141414" stroke-width="2.8"/>
<circle cx="698.84" cy="977.53" r="6.2" fill="#fff" stroke="#141414" stroke-width="2.8"/>
<circle cx="708.68" cy="974.74" r="6.2" fill="#fff" stroke="#141414" stroke-width="2.8"/>
<circle cx="718.51" cy="962.84" r="6.2" fill="#fff" stroke="#141414" stroke-width="2.8"/>
<circle cx="728.35" cy="965.15" r="6.2" fill="#fff" stroke="#141414" stroke-width="2.8"/>
<circle cx="738.18" cy="961.32" r="6.2" fill="#fff" stroke="#141414" stroke-width="2.8"/>
<circle cx="748.02" cy="974.67" r="6.2" fill="#fff" stroke="#141414" stroke-width="2.8"/>
<circle cx="757.85" cy="960.32" r="6.2" fill="#fff" stroke="#141414" stroke-width="2.8"/>
<circle cx="767.69" cy="967.53" r="6.2" fill="#fff" stroke="#141414" stroke-width="2.8"/>
<circle cx="777.52" cy="976.02" r="6.2" fill="#fff" stroke="#141414" stroke-width="2.8"/>
<circle cx="787.36" cy="972.81" r="6.2" fill="#fff" stroke="#141414" stroke-width="2.8"/>
<circle cx="797.19" cy="967.33" r="6.2" fill="#fff" stroke="#141414" stroke-width="2.8"/>
<circle cx="807.03" cy="960.06" r="6.2" fill="#fff" stroke="#141414" stroke-width="2.8"/>
<circle cx="816.86" cy="972.15" r="6.2" fill="#fff" stroke="#141414" stroke-width="2.8"/>
<circle cx="826.7" cy="970.33" r="6.2" fill="#fff" stroke="#141414" stroke-width="2.8"/>
<circle cx="836.53" cy="965.69" r="6.2" fill="#fff" stroke="#141414" stroke-width="2.8"/>
<circle cx="846.37" cy="967.78" r="6.2" fill="#fff" stroke="#141414" stroke-width="2.8"/>
<circle cx="856.2" cy="962.45" r="6.2" fill="#fff" stroke="#141414" stroke-width="2.8"/>
<circle cx="866.04" cy="972.13" r="6.2" fill="#fff" stroke="#141414" stroke-width="2.8"/>
<circle cx="875.87" cy="975.79" r="6.2" fill="#fff" stroke="#141414" stroke-width="2.8"/>
<circle cx="885.71" cy="965.47" r="6.2" fill="#fff" stroke="#141414" stroke-width="2.8"/>
<circle cx="895.54" cy="963.44" r="6.2" fill="#fff" stroke="#141414" stroke-width="2.8"/>
<circle cx="905.38" cy="970.69" r="6.2" fill="#fff" stroke="#141414" stroke-width="2.8"/>
<circle cx="915.21" cy="970.76" r="6.2" fill="#fff" stroke="#141414" stroke-width="2.8"/>
<circle cx="925.05" cy="969.03" r="6.2" fill="#fff" stroke="#141414" stroke-width="2.8"/>
<circle cx="934.88" cy="969.3" r="6.2" fill="#fff" stroke="#141414" stroke-width="2.8"/>
<circle cx="944.72" cy="972.02" r="6.2" fill="#fff" stroke="#141414" stroke-width="2.8"/>
<circle cx="954.55" cy="970.34" r="6.2" fill="#fff" stroke="#141414" stroke-width="2.8"/>
<path d="M177.6,951.9V974.9M170.1,951.9H185.1M170.1,974.9H185.1M187.4,957.4V977.3M179.9,957.4H194.9M179.9,977.3H194.9M197.3,950.6V972.7M189.8,950.6H204.8M189.8,972.7H204.8M207.1,953.5V975.3M199.6,953.5H214.6M199.6,975.3H214.6M216.9,958.2V982.4M209.4,958.2H224.4M209.4,982.4H224.4M226.8,952.4V975.6M219.3,952.4H234.3M219.3,975.6H234.3M236.6,953.4V973.5M229.1,953.4H244.1M229.1,973.5H244.1M246.4,953.3V978.3M238.9,953.3H253.9M238.9,978.3H253.9M256.3,961.4V980.3M248.8,961.4H263.8M248.8,980.3H263.8M266.1,959.8V980.8M258.6,959.8H273.6M258.6,980.8H273.6M275.9,952.3V975.7M268.4,952.3H283.4M268.4,975.7H283.4M285.8,962.4V981.6M278.3,962.4H293.3M278.3,981.6H293.3M295.6,960.1V981.6M288.1,960.1H303.1M288.1,981.6H303.1M305.4,959.3V977.7M297.9,959.3H312.9M297.9,977.7H312.9M315.3,959.4V982.2M307.8,959.4H322.8M307.8,982.2H322.8M325.1,958.5V982.0M317.6,958.5H332.6M317.6,982.0H332.6M334.9,953.3V975.5M327.4,953.3H342.4M327.4,975.5H342.4M344.8,959.4V983.7M337.3,959.4H352.3M337.3,983.7H352.3M354.6,984.4V1004.7M347.1,984.4H362.1M347.1,1004.7H362.1M364.5,1004.7V1027.7M357.0,1004.7H372.0M357.0,1027.7H372.0M374.3,1017.6V1039.9M366.8,1017.6H381.8M366.8,1039.9H381.8M384.1,1026.7V1048.9M376.6,1026.7H391.6M376.6,1048.9H391.6M394.0,1045.4V1066.8M386.5,1045.4H401.5M386.5,1066.8H401.5M403.8,1047.6V1071.6M396.3,1047.6H411.3M396.3,1071.6H411.3M413.6,1046.1V1070.8M406.1,1046.1H421.1M406.1,1070.8H421.1M423.5,1048.9V1070.3M416.0,1048.9H431.0M416.0,1070.3H431.0M433.3,1050.4V1073.2M425.8,1050.4H440.8M425.8,1073.2H440.8M443.1,1049.2V1067.7M435.6,1049.2H450.6M435.6,1067.7H450.6M453.0,1046.9V1070.0M445.5,1046.9H460.5M445.5,1070.0H460.5M462.8,1050.5V1073.1M455.3,1050.5H470.3M455.3,1073.1H470.3M472.6,1044.8V1069.9M465.1,1044.8H480.1M465.1,1069.9H480.1M482.5,1051.0V1074.9M475.0,1051.0H490.0M475.0,1074.9H490.0M492.3,1048.4V1068.5M484.8,1048.4H499.8M484.8,1068.5H499.8M502.1,1046.9V1067.8M494.6,1046.9H509.6M494.6,1067.8H509.6M512.0,1049.3V1072.1M504.5,1049.3H519.5M504.5,1072.1H519.5M521.8,1051.5V1069.8M514.3,1051.5H529.3M514.3,1069.8H529.3M531.6,1052.2V1073.6M524.1,1052.2H539.1M524.1,1073.6H539.1M541.5,1047.7V1067.0M534.0,1047.7H549.0M534.0,1067.0H549.0M551.3,1052.8V1071.7M543.8,1052.8H558.8M543.8,1071.7H558.8M561.2,1048.5V1067.0M553.7,1048.5H568.7M553.7,1067.0H568.7M571.0,1047.1V1070.6M563.5,1047.1H578.5M563.5,1070.6H578.5M580.8,1052.7V1071.8M573.3,1052.7H588.3M573.3,1071.8H588.3M590.7,1052.3V1072.2M583.2,1052.3H598.2M583.2,1072.2H598.2M600.5,1050.8V1071.7M593.0,1050.8H608.0M593.0,1071.7H608.0M610.3,1053.7V1078.0M602.8,1053.7H617.8M602.8,1078.0H617.8M620.2,1050.6V1069.3M612.7,1050.6H627.7M612.7,1069.3H627.7M630.0,1051.6V1072.9M622.5,1051.6H637.5M622.5,1072.9H637.5M639.8,1045.2V1067.2M632.3,1045.2H647.3M632.3,1067.2H647.3M649.7,1023.8V1048.1M642.2,1023.8H657.2M642.2,1048.1H657.2M659.5,999.1V1022.9M652.0,999.1H667.0M652.0,1022.9H667.0M669.3,981.8V1005.9M661.8,981.8H676.8M661.8,1005.9H676.8M679.2,973.6V993.7M671.7,973.6H686.7M671.7,993.7H686.7M689.0,968.4V989.4M681.5,968.4H696.5M681.5,989.4H696.5M698.8,950.5V971.1M691.3,950.5H706.3M691.3,971.1H706.3M708.7,948.1V972.4M701.2,948.1H716.2M701.2,972.4H716.2M718.5,950.2V975.0M711.0,950.2H726.0M711.0,975.0H726.0M728.3,953.4V972.6M720.8,953.4H735.8M720.8,972.6H735.8M738.2,955.6V974.9M730.7,955.6H745.7M730.7,974.9H745.7M748.0,959.0V978.8M740.5,959.0H755.5M740.5,978.8H755.5M757.9,953.1V972.9M750.4,953.1H765.4M750.4,972.9H765.4M767.7,953.5V975.0M760.2,953.5H775.2M760.2,975.0H775.2M777.5,960.1V982.4M770.0,960.1H785.0M770.0,982.4H785.0M787.4,957.8V977.8M779.9,957.8H794.9M779.9,977.8H794.9M797.2,955.2V973.4M789.7,955.2H804.7M789.7,973.4H804.7M807.0,951.8V972.9M799.5,951.8H814.5M799.5,972.9H814.5M816.9,957.4V978.1M809.4,957.4H824.4M809.4,978.1H824.4M826.7,959.1V981.2M819.2,959.1H834.2M819.2,981.2H834.2M836.5,953.7V978.5M829.0,953.7H844.0M829.0,978.5H844.0M846.4,953.9V976.9M838.9,953.9H853.9M838.9,976.9H853.9M856.2,951.0V972.8M848.7,951.0H863.7M848.7,972.8H863.7M866.0,955.3V977.7M858.5,955.3H873.5M858.5,977.7H873.5M875.9,958.7V981.6M868.4,958.7H883.4M868.4,981.6H883.4M885.7,952.1V970.6M878.2,952.1H893.2M878.2,970.6H893.2M895.5,952.1V976.5M888.0,952.1H903.0M888.0,976.5H903.0M905.4,957.1V980.7M897.9,957.1H912.9M897.9,980.7H912.9M915.2,955.6V979.9M907.7,955.6H922.7M907.7,979.9H922.7M925.0,957.0V980.7M917.5,957.0H932.5M917.5,980.7H932.5M934.9,957.3V978.2M927.4,957.3H942.4M927.4,978.2H942.4M944.7,958.4V979.3M937.2,958.4H952.2M937.2,979.3H952.2M954.6,962.9V981.8M947.1,962.9H962.1M947.1,981.8H962.1" stroke="#141414" stroke-width="2.4" fill="none"/>
<circle cx="177.59" cy="963.44" r="6.2" fill="#8c8c8c" stroke="#141414" stroke-width="2.8"/>
<circle cx="187.42" cy="967.35" r="6.2" fill="#8c8c8c" stroke="#141414" stroke-width="2.8"/>
<circle cx="197.26" cy="961.63" r="6.2" fill="#8c8c8c" stroke="#141414" stroke-width="2.8"/>
<circle cx="207.09" cy="964.42" r="6.2" fill="#8c8c8c" stroke="#141414" stroke-width="2.8"/>
<circle cx="216.93" cy="970.28" r="6.2" fill="#8c8c8c" stroke="#141414" stroke-width="2.8"/>
<circle cx="226.76" cy="964" r="6.2" fill="#8c8c8c" stroke="#141414" stroke-width="2.8"/>
<circle cx="236.6" cy="963.44" r="6.2" fill="#8c8c8c" stroke="#141414" stroke-width="2.8"/>
<circle cx="246.43" cy="965.81" r="6.2" fill="#8c8c8c" stroke="#141414" stroke-width="2.8"/>
<circle cx="256.27" cy="970.84" r="6.2" fill="#8c8c8c" stroke="#141414" stroke-width="2.8"/>
<circle cx="266.1" cy="970.28" r="6.2" fill="#8c8c8c" stroke="#141414" stroke-width="2.8"/>
<circle cx="275.94" cy="964" r="6.2" fill="#8c8c8c" stroke="#141414" stroke-width="2.8"/>
<circle cx="285.77" cy="971.95" r="6.2" fill="#8c8c8c" stroke="#141414" stroke-width="2.8"/>
<circle cx="295.61" cy="970.84" r="6.2" fill="#8c8c8c" stroke="#141414" stroke-width="2.8"/>
<circle cx="305.44" cy="968.46" r="6.2" fill="#8c8c8c" stroke="#141414" stroke-width="2.8"/>
<circle cx="315.28" cy="970.84" r="6.2" fill="#8c8c8c" stroke="#141414" stroke-width="2.8"/>
<circle cx="325.11" cy="970.28" r="6.2" fill="#8c8c8c" stroke="#141414" stroke-width="2.8"/>
<circle cx="334.95" cy="964.42" r="6.2" fill="#8c8c8c" stroke="#141414" stroke-width="2.8"/>
<circle cx="344.78" cy="971.53" r="6.2" fill="#8c8c8c" stroke="#141414" stroke-width="2.8"/>
<circle cx="354.62" cy="994.56" r="6.2" fill="#8c8c8c" stroke="#141414" stroke-width="2.8"/>
<circle cx="364.45" cy="1016.18" r="6.2" fill="#8c8c8c" stroke="#141414" stroke-width="2.8"/>
<circle cx="374.29" cy="1028.74" r="6.2" fill="#8c8c8c" stroke="#141414" stroke-width="2.8"/>
<circle cx="384.12" cy="1037.81" r="6.2" fill="#8c8c8c" stroke="#141414" stroke-width="2.8"/>
<circle cx="393.96" cy="1056.09" r="6.2" fill="#8c8c8c" stroke="#141414" stroke-width="2.8"/>
<circle cx="403.79" cy="1059.58" r="6.2" fill="#8c8c8c" stroke="#141414" stroke-width="2.8"/>
<circle cx="413.62" cy="1058.46" r="6.2" fill="#8c8c8c" stroke="#141414" stroke-width="2.8"/>
<circle cx="423.46" cy="1059.58" r="6.2" fill="#8c8c8c" stroke="#141414" stroke-width="2.8"/>
<circle cx="433.3" cy="1061.81" r="6.2" fill="#8c8c8c" stroke="#141414" stroke-width="2.8"/>
<circle cx="443.13" cy="1058.46" r="6.2" fill="#8c8c8c" stroke="#141414" stroke-width="2.8"/>
<circle cx="452.97" cy="1058.46" r="6.2" fill="#8c8c8c" stroke="#141414" stroke-width="2.8"/>
<circle cx="462.8" cy="1061.81" r="6.2" fill="#8c8c8c" stroke="#141414" stroke-width="2.8"/>
<circle cx="472.64" cy="1057.35" r="6.2" fill="#8c8c8c" stroke="#141414" stroke-width="2.8"/>
<circle cx="482.47" cy="1062.93" r="6.2" fill="#8c8c8c" stroke="#141414" stroke-width="2.8"/>
<circle cx="492.31" cy="1058.46" r="6.2" fill="#8c8c8c" stroke="#141414" stroke-width="2.8"/>
<circle cx="502.14" cy="1057.35" r="6.2" fill="#8c8c8c" stroke="#141414" stroke-width="2.8"/>
<circle cx="511.98" cy="1060.7" r="6.2" fill="#8c8c8c" stroke="#141414" stroke-width="2.8"/>
<circle cx="521.81" cy="1060.7" r="6.2" fill="#8c8c8c" stroke="#141414" stroke-width="2.8"/>
<circle cx="531.64" cy="1062.93" r="6.2" fill="#8c8c8c" stroke="#141414" stroke-width="2.8"/>
<circle cx="541.48" cy="1057.35" r="6.2" fill="#8c8c8c" stroke="#141414" stroke-width="2.8"/>
<circle cx="551.32" cy="1062.23" r="6.2" fill="#8c8c8c" stroke="#141414" stroke-width="2.8"/>
<circle cx="561.15" cy="1057.77" r="6.2" fill="#8c8c8c" stroke="#141414" stroke-width="2.8"/>
<circle cx="570.99" cy="1058.88" r="6.2" fill="#8c8c8c" stroke="#141414" stroke-width="2.8"/>
<circle cx="580.82" cy="1062.23" r="6.2" fill="#8c8c8c" stroke="#141414" stroke-width="2.8"/>
<circle cx="590.65" cy="1062.23" r="6.2" fill="#8c8c8c" stroke="#141414" stroke-width="2.8"/>
<circle cx="600.49" cy="1061.25" r="6.2" fill="#8c8c8c" stroke="#141414" stroke-width="2.8"/>
<circle cx="610.33" cy="1065.86" r="6.2" fill="#8c8c8c" stroke="#141414" stroke-width="2.8"/>
<circle cx="620.16" cy="1060" r="6.2" fill="#8c8c8c" stroke="#141414" stroke-width="2.8"/>
<circle cx="630" cy="1062.23" r="6.2" fill="#8c8c8c" stroke="#141414" stroke-width="2.8"/>
<circle cx="639.83" cy="1056.23" r="6.2" fill="#8c8c8c" stroke="#141414" stroke-width="2.8"/>
<circle cx="649.67" cy="1036" r="6.2" fill="#8c8c8c" stroke="#141414" stroke-width="2.8"/>
<circle cx="659.5" cy="1011.02" r="6.2" fill="#8c8c8c" stroke="#141414" stroke-width="2.8"/>
<circle cx="669.34" cy="993.86" r="6.2" fill="#8c8c8c" stroke="#141414" stroke-width="2.8"/>
<circle cx="679.17" cy="983.67" r="6.2" fill="#8c8c8c" stroke="#141414" stroke-width="2.8"/>
<circle cx="689.01" cy="978.93" r="6.2" fill="#8c8c8c" stroke="#141414" stroke-width="2.8"/>
<circle cx="698.84" cy="960.79" r="6.2" fill="#8c8c8c" stroke="#141414" stroke-width="2.8"/>
<circle cx="708.68" cy="960.23" r="6.2" fill="#8c8c8c" stroke="#141414" stroke-width="2.8"/>
<circle cx="718.51" cy="962.6" r="6.2" fill="#8c8c8c" stroke="#141414" stroke-width="2.8"/>
<circle cx="728.35" cy="963.02" r="6.2" fill="#8c8c8c" stroke="#141414" stroke-width="2.8"/>
<circle cx="738.18" cy="965.26" r="6.2" fill="#8c8c8c" stroke="#141414" stroke-width="2.8"/>
<circle cx="748.02" cy="968.88" r="6.2" fill="#8c8c8c" stroke="#141414" stroke-width="2.8"/>
<circle cx="757.85" cy="963.02" r="6.2" fill="#8c8c8c" stroke="#141414" stroke-width="2.8"/>
<circle cx="767.69" cy="964.28" r="6.2" fill="#8c8c8c" stroke="#141414" stroke-width="2.8"/>
<circle cx="777.52" cy="971.25" r="6.2" fill="#8c8c8c" stroke="#141414" stroke-width="2.8"/>
<circle cx="787.36" cy="967.77" r="6.2" fill="#8c8c8c" stroke="#141414" stroke-width="2.8"/>
<circle cx="797.19" cy="964.28" r="6.2" fill="#8c8c8c" stroke="#141414" stroke-width="2.8"/>
<circle cx="807.03" cy="962.32" r="6.2" fill="#8c8c8c" stroke="#141414" stroke-width="2.8"/>
<circle cx="816.86" cy="967.77" r="6.2" fill="#8c8c8c" stroke="#141414" stroke-width="2.8"/>
<circle cx="826.7" cy="970.14" r="6.2" fill="#8c8c8c" stroke="#141414" stroke-width="2.8"/>
<circle cx="836.53" cy="966.09" r="6.2" fill="#8c8c8c" stroke="#141414" stroke-width="2.8"/>
<circle cx="846.37" cy="965.39" r="6.2" fill="#8c8c8c" stroke="#141414" stroke-width="2.8"/>
<circle cx="856.2" cy="961.91" r="6.2" fill="#8c8c8c" stroke="#141414" stroke-width="2.8"/>
<circle cx="866.04" cy="966.51" r="6.2" fill="#8c8c8c" stroke="#141414" stroke-width="2.8"/>
<circle cx="875.87" cy="970.14" r="6.2" fill="#8c8c8c" stroke="#141414" stroke-width="2.8"/>
<circle cx="885.71" cy="961.35" r="6.2" fill="#8c8c8c" stroke="#141414" stroke-width="2.8"/>
<circle cx="895.54" cy="964.28" r="6.2" fill="#8c8c8c" stroke="#141414" stroke-width="2.8"/>
<circle cx="905.38" cy="968.88" r="6.2" fill="#8c8c8c" stroke="#141414" stroke-width="2.8"/>
<circle cx="915.21" cy="967.77" r="6.2" fill="#8c8c8c" stroke="#141414" stroke-width="2.8"/>
<circle cx="925.05" cy="968.88" r="6.2" fill="#8c8c8c" stroke="#141414" stroke-width="2.8"/>
<circle cx="934.88" cy="967.77" r="6.2" fill="#8c8c8c" stroke="#141414" stroke-width="2.8"/>
<circle cx="944.72" cy="968.88" r="6.2" fill="#8c8c8c" stroke="#141414" stroke-width="2.8"/>
<circle cx="954.55" cy="972.37" r="6.2" fill="#8c8c8c" stroke="#141414" stroke-width="2.8"/>
<text x="1.71" y="1307.4" font-size="49.6" textLength="34.93" lengthAdjust="spacing" fill="#141414" style="stroke:#141414;stroke-width:0.8px">D</text>
<rect x="142.1" y="1350.0" width="65.5" height="287.6" fill="#fff" stroke="#141414" stroke-width="3.2"/>
<rect x="224.5" y="1539.6" width="65.3" height="98.0" fill="#009dd1" stroke="#141414" stroke-width="3.2"/>
<rect x="306.5" y="1354.9" width="66.3" height="282.7" fill="#009b5a" stroke="#141414" stroke-width="3.2"/>
<rect x="389.1" y="1352.8" width="66.5" height="284.8" fill="#b5b6b6" stroke="#141414" stroke-width="3.2"/>
<path d="M175.2,1337.6V1361.4M171.6,1337.6H178.8M171.6,1361.4H178.8" stroke="#141414" stroke-width="3.1" stroke-linecap="round" fill="none"/>
<path d="M158.3,1315.7L164.5,1325.4L152.1,1325.4Z" fill="#fff" stroke="#141414" stroke-width="2.7" stroke-linejoin="miter"/>
<path d="M153.7,1331.0L163.4,1324.8L163.4,1337.2Z" fill="#fff" stroke="#141414" stroke-width="2.7" stroke-linejoin="miter"/>
<path d="M192.5,1331.9L198.7,1322.2L186.3,1322.2Z" fill="#fff" stroke="#141414" stroke-width="2.7" stroke-linejoin="miter"/>
<path d="M187.3,1350.5H196.3V1359.5H187.3Z" fill="#fff" stroke="#141414" stroke-width="2.7" stroke-linejoin="miter"/>
<path d="M158.3,1364.3L164.6,1370.6L158.3,1376.9L152.0,1370.6Z" fill="#fff" stroke="#141414" stroke-width="2.7" stroke-linejoin="miter"/>
<circle cx="191.3" cy="1393.7" r="5.0" fill="#fff" stroke="#141414" stroke-width="2.7"/>
<path d="M257.5,1531.7V1547.6M253.9,1531.7H261.1M253.9,1547.6H261.1" stroke="#141414" stroke-width="3.1" stroke-linecap="round" fill="none"/>
<path d="M243.9,1502.0L250.1,1511.7L237.7,1511.7Z" fill="#fff" stroke="#141414" stroke-width="2.7" stroke-linejoin="miter"/>
<path d="M267.9,1531.0L277.6,1524.8L277.6,1537.2Z" fill="#fff" stroke="#141414" stroke-width="2.7" stroke-linejoin="miter"/>
<path d="M239.8,1535.6H248.8V1544.6H239.8Z" fill="#fff" stroke="#141414" stroke-width="2.7" stroke-linejoin="miter"/>
<circle cx="272.4" cy="1544.6" r="5.0" fill="#fff" stroke="#141414" stroke-width="2.7"/>
<path d="M243.4,1546.2L249.7,1552.5L243.4,1558.8L237.1,1552.5Z" fill="#fff" stroke="#141414" stroke-width="2.7" stroke-linejoin="miter"/>
<path d="M272.4,1567.3L278.6,1557.6L266.2,1557.6Z" fill="#fff" stroke="#141414" stroke-width="2.7" stroke-linejoin="miter"/>
<path d="M339.6,1344.5V1365.2M336.0,1344.5H343.2M336.0,1365.2H343.2" stroke="#141414" stroke-width="3.1" stroke-linecap="round" fill="none"/>
<path d="M327.2,1327.0L333.4,1317.3L321.0,1317.3Z" fill="#fff" stroke="#141414" stroke-width="2.7" stroke-linejoin="miter"/>
<path d="M357.6,1327.8L363.8,1337.5L351.4,1337.5Z" fill="#fff" stroke="#141414" stroke-width="2.7" stroke-linejoin="miter"/>
<path d="M327.2,1351.7L333.5,1358.0L327.2,1364.3L320.9,1358.0Z" fill="#fff" stroke="#141414" stroke-width="2.7" stroke-linejoin="miter"/>
<path d="M353.4,1355.9L363.1,1349.7L363.1,1362.1Z" fill="#fff" stroke="#141414" stroke-width="2.7" stroke-linejoin="miter"/>
<path d="M354.6,1365.9H363.6V1374.9H354.6Z" fill="#fff" stroke="#141414" stroke-width="2.7" stroke-linejoin="miter"/>
<circle cx="328.7" cy="1390.0" r="5.0" fill="#fff" stroke="#141414" stroke-width="2.7"/>
<path d="M422.4,1343.0V1361.7M418.8,1343.0H426.0M418.8,1361.7H426.0" stroke="#141414" stroke-width="3.1" stroke-linecap="round" fill="none"/>
<path d="M405.3,1320.6L411.5,1330.3L399.1,1330.3Z" fill="#fff" stroke="#141414" stroke-width="2.7" stroke-linejoin="miter"/>
<path d="M401.0,1339.3L410.7,1333.1L410.7,1345.5Z" fill="#fff" stroke="#141414" stroke-width="2.7" stroke-linejoin="miter"/>
<path d="M438.4,1341.5L444.6,1331.8L432.2,1331.8Z" fill="#fff" stroke="#141414" stroke-width="2.7" stroke-linejoin="miter"/>
<path d="M438.4,1354.8L444.7,1361.1L438.4,1367.4L432.1,1361.1Z" fill="#fff" stroke="#141414" stroke-width="2.7" stroke-linejoin="miter"/>
<path d="M402.2,1363.8H411.2V1372.8H402.2Z" fill="#fff" stroke="#141414" stroke-width="2.7" stroke-linejoin="miter"/>
<circle cx="438.4" cy="1383.9" r="5.0" fill="#fff" stroke="#141414" stroke-width="2.7"/>
<line x1="133.8" y1="1291.95" x2="133.8" y2="1637.6" stroke="#141414" stroke-width="3.3" stroke-linecap="butt"/>
<line x1="121.7" y1="1293.6" x2="133.8" y2="1293.6" stroke="#141414" stroke-width="3.3" stroke-linecap="butt"/>
<line x1="121.7" y1="1408" x2="133.8" y2="1408" stroke="#141414" stroke-width="3.3" stroke-linecap="butt"/>
<line x1="121.7" y1="1523.5" x2="133.8" y2="1523.5" stroke="#141414" stroke-width="3.3" stroke-linecap="butt"/>
<line x1="121.7" y1="1637.6" x2="465" y2="1637.6" stroke="#141414" stroke-width="3.3" stroke-linecap="butt"/>
<text x="66.41" y="1304.99" font-size="30.53" textLength="51.87" lengthAdjust="spacing" fill="#141414">120</text>
<text x="83.51" y="1418.8" font-size="30.39" textLength="34.8" lengthAdjust="spacing" fill="#141414">80</text>
<text x="84.12" y="1534.7" font-size="30.39" textLength="34.19" lengthAdjust="spacing" fill="#141414">40</text>
<text x="100.28" y="1648.8" font-size="30.39" textLength="17.99" lengthAdjust="spacing" fill="#141414">0</text>
<path d="M240.90,1481.30L240.90,1475.30M240.90,1481.30L246.61,1479.45M240.90,1481.30L244.43,1486.15M240.90,1481.30L237.37,1486.15M240.90,1481.30L235.19,1479.45" stroke="#141414" stroke-width="2.70" stroke-linecap="butt" fill="none"/>
<path d="M258.20,1481.30L258.20,1475.30M258.20,1481.30L263.91,1479.45M258.20,1481.30L261.73,1486.15M258.20,1481.30L254.67,1486.15M258.20,1481.30L252.49,1479.45" stroke="#141414" stroke-width="2.70" stroke-linecap="butt" fill="none"/>
<path d="M275.60,1481.30L275.60,1475.30M275.60,1481.30L281.31,1479.45M275.60,1481.30L279.13,1486.15M275.60,1481.30L272.07,1486.15M275.60,1481.30L269.89,1479.45" stroke="#141414" stroke-width="2.70" stroke-linecap="butt" fill="none"/>
<text transform="translate(46.4,1613.22) rotate(-90)" x="0" y="0" font-size="31.71" textLength="289.38" lengthAdjust="spacing" fill="#141414">Norm.Amp. of P1(%)</text>
<text x="502.5" y="1305.5" font-size="49.75" textLength="31.89" lengthAdjust="spacing" fill="#141414">E</text>
<rect x="636.7" y="1464.9" width="65.8" height="173.6" fill="#fff" stroke="#141414" stroke-width="3.2"/>
<rect x="719.8" y="1358.3" width="65.4" height="280.2" fill="#009dd1" stroke="#141414" stroke-width="3.2"/>
<rect x="801.3" y="1462.2" width="66.9" height="176.3" fill="#009b5a" stroke="#141414" stroke-width="3.2"/>
<rect x="884.0" y="1464.0" width="66.9" height="174.5" fill="#b5b6b6" stroke="#141414" stroke-width="3.2"/>
<path d="M670.1,1457.8V1471.4M666.5,1457.8H673.7M666.5,1471.4H673.7" stroke="#141414" stroke-width="3.1" stroke-linecap="round" fill="none"/>
<path d="M654.6,1437.6L660.8,1447.3L648.4,1447.3Z" fill="#fff" stroke="#141414" stroke-width="2.7" stroke-linejoin="miter"/>
<path d="M654.6,1454.5L660.9,1460.8L654.6,1467.1L648.3,1460.8Z" fill="#fff" stroke="#141414" stroke-width="2.7" stroke-linejoin="miter"/>
<path d="M650.2,1475.4L659.9,1469.2L659.9,1481.6Z" fill="#fff" stroke="#141414" stroke-width="2.7" stroke-linejoin="miter"/>
<path d="M680.9,1448.1H689.9V1457.1H680.9Z" fill="#fff" stroke="#141414" stroke-width="2.7" stroke-linejoin="miter"/>
<circle cx="685.4" cy="1469.6" r="5.0" fill="#fff" stroke="#141414" stroke-width="2.7"/>
<path d="M685.4,1493.1L691.6,1483.4L679.2,1483.4Z" fill="#fff" stroke="#141414" stroke-width="2.7" stroke-linejoin="miter"/>
<path d="M752.8,1344.8V1372.4M749.2,1344.8H756.4M749.2,1372.4H756.4" stroke="#141414" stroke-width="3.1" stroke-linecap="round" fill="none"/>
<path d="M737.4,1304.0L743.7,1310.3L737.4,1316.6L731.1,1310.3Z" fill="#fff" stroke="#141414" stroke-width="2.7" stroke-linejoin="miter"/>
<path d="M764.6,1334.6L774.3,1328.4L774.3,1340.8Z" fill="#fff" stroke="#141414" stroke-width="2.7" stroke-linejoin="miter"/>
<circle cx="737.0" cy="1347.8" r="5.0" fill="#fff" stroke="#141414" stroke-width="2.7"/>
<path d="M769.0,1362.7L775.2,1372.4L762.8,1372.4Z" fill="#fff" stroke="#141414" stroke-width="2.7" stroke-linejoin="miter"/>
<path d="M732.9,1382.9H741.9V1391.9H732.9Z" fill="#fff" stroke="#141414" stroke-width="2.7" stroke-linejoin="miter"/>
<path d="M769.0,1408.5L775.2,1398.8L762.8,1398.8Z" fill="#fff" stroke="#141414" stroke-width="2.7" stroke-linejoin="miter"/>
<path d="M834.7,1456.1V1468.4M831.1,1456.1H838.3M831.1,1468.4H838.3" stroke="#141414" stroke-width="3.1" stroke-linecap="round" fill="none"/>
<path d="M819.8,1446.4L826.0,1456.1L813.6,1456.1Z" fill="#fff" stroke="#141414" stroke-width="2.7" stroke-linejoin="miter"/>
<path d="M814.5,1468.4L824.2,1462.2L824.2,1474.6Z" fill="#fff" stroke="#141414" stroke-width="2.7" stroke-linejoin="miter"/>
<path d="M819.8,1485.1L826.0,1475.4L813.6,1475.4Z" fill="#fff" stroke="#141414" stroke-width="2.7" stroke-linejoin="miter"/>
<path d="M849.7,1432.2L856.0,1438.5L849.7,1444.8L843.4,1438.5Z" fill="#fff" stroke="#141414" stroke-width="2.7" stroke-linejoin="miter"/>
<circle cx="849.7" cy="1463.1" r="5.0" fill="#fff" stroke="#141414" stroke-width="2.7"/>
<path d="M845.2,1468.3H854.2V1477.3H845.2Z" fill="#fff" stroke="#141414" stroke-width="2.7" stroke-linejoin="miter"/>
<path d="M917.1,1458.7V1470.7M913.5,1458.7H920.7M913.5,1470.7H920.7" stroke="#141414" stroke-width="3.1" stroke-linecap="round" fill="none"/>
<path d="M902.0,1441.1L908.2,1450.8L895.8,1450.8Z" fill="#fff" stroke="#141414" stroke-width="2.7" stroke-linejoin="miter"/>
<path d="M897.5,1457.4H906.5V1466.4H897.5Z" fill="#fff" stroke="#141414" stroke-width="2.7" stroke-linejoin="miter"/>
<circle cx="902.0" cy="1479.0" r="5.0" fill="#fff" stroke="#141414" stroke-width="2.7"/>
<path d="M932.4,1445.7L938.7,1452.0L932.4,1458.3L926.1,1452.0Z" fill="#fff" stroke="#141414" stroke-width="2.7" stroke-linejoin="miter"/>
<path d="M932.4,1475.5L938.6,1465.8L926.2,1465.8Z" fill="#fff" stroke="#141414" stroke-width="2.7" stroke-linejoin="miter"/>
<path d="M927.1,1480.7L936.8,1474.5L936.8,1486.9Z" fill="#fff" stroke="#141414" stroke-width="2.7" stroke-linejoin="miter"/>
<line x1="628.9" y1="1292.1" x2="628.9" y2="1638.5" stroke="#141414" stroke-width="3.2" stroke-linecap="butt"/>
<line x1="617.1" y1="1293.7" x2="628.9" y2="1293.7" stroke="#141414" stroke-width="3.2" stroke-linecap="butt"/>
<line x1="617.1" y1="1379.8" x2="628.9" y2="1379.8" stroke="#141414" stroke-width="3.2" stroke-linecap="butt"/>
<line x1="617.1" y1="1466" x2="628.9" y2="1466" stroke="#141414" stroke-width="3.2" stroke-linecap="butt"/>
<line x1="617.1" y1="1552.4" x2="628.9" y2="1552.4" stroke="#141414" stroke-width="3.2" stroke-linecap="butt"/>
<line x1="617.1" y1="1638.5" x2="959.3" y2="1638.5" stroke="#141414" stroke-width="3.2" stroke-linecap="butt"/>
<text x="562.59" y="1303.3" font-size="30.11" textLength="53.06" lengthAdjust="spacing" fill="#141414">200</text>
<text x="563.94" y="1390.3" font-size="30.11" textLength="51.72" lengthAdjust="spacing" fill="#141414">150</text>
<text x="561.84" y="1476.5" font-size="30.11" textLength="53.82" lengthAdjust="spacing" fill="#141414">100</text>
<text x="581.2" y="1562.9" font-size="30.11" textLength="34.5" lengthAdjust="spacing" fill="#141414">50</text>
<text x="599.1" y="1649" font-size="30.11" textLength="16.57" lengthAdjust="spacing" fill="#141414">0</text>
<path d="M735.20,1292.30L735.20,1286.30M735.20,1292.30L740.91,1290.45M735.20,1292.30L738.73,1297.15M735.20,1292.30L731.67,1297.15M735.20,1292.30L729.49,1290.45" stroke="#141414" stroke-width="2.70" stroke-linecap="butt" fill="none"/>
<path d="M751.40,1292.30L751.40,1286.30M751.40,1292.30L757.11,1290.45M751.40,1292.30L754.93,1297.15M751.40,1292.30L747.87,1297.15M751.40,1292.30L745.69,1290.45" stroke="#141414" stroke-width="2.70" stroke-linecap="butt" fill="none"/>
<path d="M769.00,1292.30L769.00,1286.30M769.00,1292.30L774.71,1290.45M769.00,1292.30L772.53,1297.15M769.00,1292.30L765.47,1297.15M769.00,1292.30L763.29,1290.45" stroke="#141414" stroke-width="2.70" stroke-linecap="butt" fill="none"/>
<text transform="translate(541.8,1583.87) rotate(-90)" x="0" y="0" font-size="31.13" textLength="225.73" lengthAdjust="spacing" fill="#141414">P2/P1 ratio (%)</text>
<text x="-0.47" y="1830.3" font-size="49.31" textLength="28.88" lengthAdjust="spacing" fill="#141414" style="stroke:#141414;stroke-width:0.8px">F</text>
<rect x="142.9" y="1864.0" width="66.3" height="290.4" fill="#fff" stroke="#141414" stroke-width="3.2"/>
<rect x="225.2" y="2051.7" width="66.4" height="102.7" fill="#009dd1" stroke="#141414" stroke-width="3.2"/>
<rect x="308.0" y="2052.9" width="65.7" height="101.5" fill="#009b5a" stroke="#141414" stroke-width="3.2"/>
<rect x="390.4" y="1870.7" width="66.2" height="283.7" fill="#b5b6b6" stroke="#141414" stroke-width="3.2"/>
<path d="M175.9,1854.0V1873.9M172.3,1854.0H179.5M172.3,1873.9H179.5" stroke="#141414" stroke-width="3.1" stroke-linecap="round" fill="none"/>
<path d="M158.7,1831.0L168.4,1824.8L168.4,1837.2Z" fill="#fff" stroke="#141414" stroke-width="2.7" stroke-linejoin="miter"/>
<path d="M158.2,1858.7H167.2V1867.7H158.2Z" fill="#fff" stroke="#141414" stroke-width="2.7" stroke-linejoin="miter"/>
<path d="M162.7,1883.4L168.9,1873.7L156.5,1873.7Z" fill="#fff" stroke="#141414" stroke-width="2.7" stroke-linejoin="miter"/>
<circle cx="191.3" cy="1845.1" r="5.0" fill="#fff" stroke="#141414" stroke-width="2.7"/>
<path d="M191.3,1866.1L197.6,1872.4L191.3,1878.7L185.0,1872.4Z" fill="#fff" stroke="#141414" stroke-width="2.7" stroke-linejoin="miter"/>
<path d="M191.3,1887.0L197.5,1896.7L185.1,1896.7Z" fill="#fff" stroke="#141414" stroke-width="2.7" stroke-linejoin="miter"/>
<path d="M258.3,2044.2V2059.1M254.7,2044.2H261.9M254.7,2059.1H261.9" stroke="#141414" stroke-width="3.1" stroke-linecap="round" fill="none"/>
<path d="M238.9,2021.6H247.9V2030.6H238.9Z" fill="#fff" stroke="#141414" stroke-width="2.7" stroke-linejoin="miter"/>
<path d="M243.4,2056.3L249.6,2046.6L237.2,2046.6Z" fill="#fff" stroke="#141414" stroke-width="2.7" stroke-linejoin="miter"/>
<path d="M243.4,2054.3L249.6,2064.0L237.2,2064.0Z" fill="#fff" stroke="#141414" stroke-width="2.7" stroke-linejoin="miter"/>
<path d="M274.9,2033.5L281.2,2039.8L274.9,2046.1L268.6,2039.8Z" fill="#fff" stroke="#141414" stroke-width="2.7" stroke-linejoin="miter"/>
<path d="M269.6,2055.9L279.3,2049.7L279.3,2062.1Z" fill="#fff" stroke="#141414" stroke-width="2.7" stroke-linejoin="miter"/>
<circle cx="274.9" cy="2075.0" r="5.0" fill="#fff" stroke="#141414" stroke-width="2.7"/>
<path d="M340.7,2043.8V2062.1M337.1,2043.8H344.3M337.1,2062.1H344.3" stroke="#141414" stroke-width="3.1" stroke-linecap="round" fill="none"/>
<path d="M322.5,2028.0H331.5V2037.0H322.5Z" fill="#fff" stroke="#141414" stroke-width="2.7" stroke-linejoin="miter"/>
<path d="M356.0,2029.4L362.2,2039.1L349.8,2039.1Z" fill="#fff" stroke="#141414" stroke-width="2.7" stroke-linejoin="miter"/>
<path d="M356.0,2041.5L362.3,2047.8L356.0,2054.1L349.7,2047.8Z" fill="#fff" stroke="#141414" stroke-width="2.7" stroke-linejoin="miter"/>
<path d="M327.0,2061.7L333.2,2052.0L320.8,2052.0Z" fill="#fff" stroke="#141414" stroke-width="2.7" stroke-linejoin="miter"/>
<path d="M350.7,2060.4L360.4,2054.2L360.4,2066.6Z" fill="#fff" stroke="#141414" stroke-width="2.7" stroke-linejoin="miter"/>
<circle cx="327.0" cy="2088.2" r="5.0" fill="#fff" stroke="#141414" stroke-width="2.7"/>
<path d="M423.3,1863.3V1878.5M419.7,1863.3H426.9M419.7,1878.5H426.9" stroke="#141414" stroke-width="3.1" stroke-linecap="round" fill="none"/>
<circle cx="408.2" cy="1850.5" r="5.0" fill="#fff" stroke="#141414" stroke-width="2.7"/>
<path d="M408.2,1867.3L414.4,1857.6L402.0,1857.6Z" fill="#fff" stroke="#141414" stroke-width="2.7" stroke-linejoin="miter"/>
<path d="M403.7,1885.4H412.7V1894.4H403.7Z" fill="#fff" stroke="#141414" stroke-width="2.7" stroke-linejoin="miter"/>
<path d="M440.0,1851.0L446.3,1857.3L440.0,1863.6L433.7,1857.3Z" fill="#fff" stroke="#141414" stroke-width="2.7" stroke-linejoin="miter"/>
<path d="M435.3,1871.2L445.0,1865.0L445.0,1877.4Z" fill="#fff" stroke="#141414" stroke-width="2.7" stroke-linejoin="miter"/>
<path d="M439.8,1886.7L446.0,1896.4L433.6,1896.4Z" fill="#fff" stroke="#141414" stroke-width="2.7" stroke-linejoin="miter"/>
<line x1="135" y1="1808.55" x2="135" y2="2154.4" stroke="#141414" stroke-width="2.9" stroke-linecap="butt"/>
<line x1="123.6" y1="1810" x2="135" y2="1810" stroke="#141414" stroke-width="2.9" stroke-linecap="butt"/>
<line x1="123.6" y1="1924.6" x2="135" y2="1924.6" stroke="#141414" stroke-width="2.9" stroke-linecap="butt"/>
<line x1="123.6" y1="2039.3" x2="135" y2="2039.3" stroke="#141414" stroke-width="2.9" stroke-linecap="butt"/>
<line x1="123.6" y1="2154.4" x2="465" y2="2154.4" stroke="#141414" stroke-width="2.9" stroke-linecap="butt"/>
<text x="69.34" y="1824.9" font-size="30.11" textLength="51.42" lengthAdjust="spacing" fill="#141414">120</text>
<text x="86.22" y="1938.6" font-size="30.11" textLength="34.58" lengthAdjust="spacing" fill="#141414">80</text>
<text x="86.14" y="2053.91" font-size="29.26" textLength="34.62" lengthAdjust="spacing" fill="#141414">40</text>
<text x="104.91" y="2166.73" font-size="27.14" textLength="15.73" lengthAdjust="spacing" fill="#141414">0</text>
<path d="M240.60,2000.20L240.60,1994.20M240.60,2000.20L246.31,1998.35M240.60,2000.20L244.13,2005.05M240.60,2000.20L237.07,2005.05M240.60,2000.20L234.89,1998.35" stroke="#141414" stroke-width="2.70" stroke-linecap="butt" fill="none"/>
<path d="M257.80,2000.20L257.80,1994.20M257.80,2000.20L263.51,1998.35M257.80,2000.20L261.33,2005.05M257.80,2000.20L254.27,2005.05M257.80,2000.20L252.09,1998.35" stroke="#141414" stroke-width="2.70" stroke-linecap="butt" fill="none"/>
<path d="M275.20,2000.20L275.20,1994.20M275.20,2000.20L280.91,1998.35M275.20,2000.20L278.73,2005.05M275.20,2000.20L271.67,2005.05M275.20,2000.20L269.49,1998.35" stroke="#141414" stroke-width="2.70" stroke-linecap="butt" fill="none"/>
<path d="M320.70,2004.60L320.70,1998.60M320.70,2004.60L326.41,2002.75M320.70,2004.60L324.23,2009.45M320.70,2004.60L317.17,2009.45M320.70,2004.60L314.99,2002.75" stroke="#141414" stroke-width="2.70" stroke-linecap="butt" fill="none"/>
<path d="M338.40,2004.60L338.40,1998.60M338.40,2004.60L344.11,2002.75M338.40,2004.60L341.93,2009.45M338.40,2004.60L334.87,2009.45M338.40,2004.60L332.69,2002.75" stroke="#141414" stroke-width="2.70" stroke-linecap="butt" fill="none"/>
<path d="M356.60,2004.60L356.60,1998.60M356.60,2004.60L362.31,2002.75M356.60,2004.60L360.13,2009.45M356.60,2004.60L353.07,2009.45M356.60,2004.60L350.89,2002.75" stroke="#141414" stroke-width="2.70" stroke-linecap="butt" fill="none"/>
<text transform="translate(48.5,2122.27) rotate(-90)" x="0" y="0" font-size="31.13" textLength="278.09" lengthAdjust="spacing" fill="#141414">Norm.Amp. of P1(%)</text>
<text x="498.75" y="1829.81" font-size="49.05" textLength="38.75" lengthAdjust="spacing" fill="#141414">G</text>
<rect x="636.5" y="1979.9" width="66.6" height="173.9" fill="#fff" stroke="#141414" stroke-width="3.2"/>
<rect x="719.6" y="1880.9" width="65.7" height="272.9" fill="#009dd1" stroke="#141414" stroke-width="3.2"/>
<rect x="801.5" y="1886.9" width="67.1" height="266.9" fill="#009b5a" stroke="#141414" stroke-width="3.2"/>
<rect x="884.4" y="1976.5" width="65.7" height="177.3" fill="#b5b6b6" stroke="#141414" stroke-width="3.2"/>
<path d="M669.6,1972.8V1987.7M666.0,1972.8H673.2M666.0,1987.7H673.2" stroke="#141414" stroke-width="3.1" stroke-linecap="round" fill="none"/>
<path d="M655.3,1960.2L661.5,1950.5L649.1,1950.5Z" fill="#fff" stroke="#141414" stroke-width="2.7" stroke-linejoin="miter"/>
<path d="M650.2,1971.4H659.2V1980.4H650.2Z" fill="#fff" stroke="#141414" stroke-width="2.7" stroke-linejoin="miter"/>
<circle cx="654.4" cy="1988.4" r="5.0" fill="#fff" stroke="#141414" stroke-width="2.7"/>
<path d="M686.4,1961.5L692.7,1967.8L686.4,1974.1L680.1,1967.8Z" fill="#fff" stroke="#141414" stroke-width="2.7" stroke-linejoin="miter"/>
<path d="M681.5,1990.8L691.2,1984.6L691.2,1997.0Z" fill="#fff" stroke="#141414" stroke-width="2.7" stroke-linejoin="miter"/>
<path d="M686.4,1996.2L692.6,2005.9L680.2,2005.9Z" fill="#fff" stroke="#141414" stroke-width="2.7" stroke-linejoin="miter"/>
<path d="M752.2,1866.0V1894.3M748.6,1866.0H755.8M748.6,1894.3H755.8" stroke="#141414" stroke-width="3.1" stroke-linecap="round" fill="none"/>
<path d="M735.8,1843.7L742.0,1834.0L729.6,1834.0Z" fill="#fff" stroke="#141414" stroke-width="2.7" stroke-linejoin="miter"/>
<path d="M731.3,1865.2H740.3V1874.2H731.3Z" fill="#fff" stroke="#141414" stroke-width="2.7" stroke-linejoin="miter"/>
<path d="M735.8,1893.7L742.0,1903.4L729.6,1903.4Z" fill="#fff" stroke="#141414" stroke-width="2.7" stroke-linejoin="miter"/>
<path d="M770.4,1848.5L776.7,1854.8L770.4,1861.1L764.1,1854.8Z" fill="#fff" stroke="#141414" stroke-width="2.7" stroke-linejoin="miter"/>
<path d="M765.1,1887.8L774.8,1881.6L774.8,1894.0Z" fill="#fff" stroke="#141414" stroke-width="2.7" stroke-linejoin="miter"/>
<circle cx="770.4" cy="1932.5" r="5.0" fill="#fff" stroke="#141414" stroke-width="2.7"/>
<path d="M834.5,1876.6V1897.7M830.9,1876.6H838.1M830.9,1897.7H838.1" stroke="#141414" stroke-width="3.1" stroke-linecap="round" fill="none"/>
<path d="M814.7,1852.2H823.7V1861.2H814.7Z" fill="#fff" stroke="#141414" stroke-width="2.7" stroke-linejoin="miter"/>
<path d="M819.2,1866.6L825.5,1872.9L819.2,1879.2L812.9,1872.9Z" fill="#fff" stroke="#141414" stroke-width="2.7" stroke-linejoin="miter"/>
<path d="M819.2,1907.7L825.4,1917.4L813.0,1917.4Z" fill="#fff" stroke="#141414" stroke-width="2.7" stroke-linejoin="miter"/>
<path d="M851.3,1871.7L857.5,1862.0L845.1,1862.0Z" fill="#fff" stroke="#141414" stroke-width="2.7" stroke-linejoin="miter"/>
<path d="M846.0,1897.1L855.7,1890.9L855.7,1903.3Z" fill="#fff" stroke="#141414" stroke-width="2.7" stroke-linejoin="miter"/>
<circle cx="851.3" cy="1917.6" r="5.0" fill="#fff" stroke="#141414" stroke-width="2.7"/>
<path d="M917.0,1970.9V1981.9M913.4,1970.9H920.6M913.4,1981.9H920.6" stroke="#141414" stroke-width="3.1" stroke-linecap="round" fill="none"/>
<path d="M896.2,1953.7H905.2V1962.7H896.2Z" fill="#fff" stroke="#141414" stroke-width="2.7" stroke-linejoin="miter"/>
<path d="M900.4,1965.4L906.6,1975.1L894.2,1975.1Z" fill="#fff" stroke="#141414" stroke-width="2.7" stroke-linejoin="miter"/>
<circle cx="900.4" cy="1984.3" r="5.0" fill="#fff" stroke="#141414" stroke-width="2.7"/>
<path d="M930.3,1968.0L940.0,1961.8L940.0,1974.2Z" fill="#fff" stroke="#141414" stroke-width="2.7" stroke-linejoin="miter"/>
<path d="M934.9,1973.9L941.2,1980.2L934.9,1986.5L928.6,1980.2Z" fill="#fff" stroke="#141414" stroke-width="2.7" stroke-linejoin="miter"/>
<path d="M934.9,2001.2L941.1,1991.5L928.7,1991.5Z" fill="#fff" stroke="#141414" stroke-width="2.7" stroke-linejoin="miter"/>
<line x1="629.1" y1="1808.1" x2="629.1" y2="2153.8" stroke="#141414" stroke-width="3.2" stroke-linecap="butt"/>
<line x1="617.7" y1="1809.7" x2="629.1" y2="1809.7" stroke="#141414" stroke-width="3.2" stroke-linecap="butt"/>
<line x1="617.7" y1="1896" x2="629.1" y2="1896" stroke="#141414" stroke-width="3.2" stroke-linecap="butt"/>
<line x1="617.7" y1="1982.4" x2="629.1" y2="1982.4" stroke="#141414" stroke-width="3.2" stroke-linecap="butt"/>
<line x1="617.7" y1="2069.5" x2="629.1" y2="2069.5" stroke="#141414" stroke-width="3.2" stroke-linecap="butt"/>
<line x1="617.2" y1="2153.8" x2="959.3" y2="2153.8" stroke="#141414" stroke-width="3.2" stroke-linecap="butt"/>
<text x="562.57" y="1819.11" font-size="28.69" textLength="52.54" lengthAdjust="spacing" fill="#141414">200</text>
<text x="563.85" y="1906.3" font-size="29.96" textLength="51.3" lengthAdjust="spacing" fill="#141414">150</text>
<text x="561.84" y="1992.71" font-size="28.83" textLength="53.27" lengthAdjust="spacing" fill="#141414">100</text>
<text x="581.25" y="2079.81" font-size="28.69" textLength="33.89" lengthAdjust="spacing" fill="#141414">50</text>
<text x="598.65" y="2163.71" font-size="28.69" textLength="16.46" lengthAdjust="spacing" fill="#141414">0</text>
<path d="M733.20,1813.80L733.20,1807.80M733.20,1813.80L738.91,1811.95M733.20,1813.80L736.73,1818.65M733.20,1813.80L729.67,1818.65M733.20,1813.80L727.49,1811.95" stroke="#141414" stroke-width="2.70" stroke-linecap="butt" fill="none"/>
<path d="M749.90,1813.80L749.90,1807.80M749.90,1813.80L755.61,1811.95M749.90,1813.80L753.43,1818.65M749.90,1813.80L746.37,1818.65M749.90,1813.80L744.19,1811.95" stroke="#141414" stroke-width="2.70" stroke-linecap="butt" fill="none"/>
<path d="M767.40,1813.80L767.40,1807.80M767.40,1813.80L773.11,1811.95M767.40,1813.80L770.93,1818.65M767.40,1813.80L763.87,1818.65M767.40,1813.80L761.69,1811.95" stroke="#141414" stroke-width="2.70" stroke-linecap="butt" fill="none"/>
<path d="M817.80,1828.20L817.80,1822.20M817.80,1828.20L823.51,1826.35M817.80,1828.20L821.33,1833.05M817.80,1828.20L814.27,1833.05M817.80,1828.20L812.09,1826.35" stroke="#141414" stroke-width="2.70" stroke-linecap="butt" fill="none"/>
<path d="M835.10,1828.20L835.10,1822.20M835.10,1828.20L840.81,1826.35M835.10,1828.20L838.63,1833.05M835.10,1828.20L831.57,1833.05M835.10,1828.20L829.39,1826.35" stroke="#141414" stroke-width="2.70" stroke-linecap="butt" fill="none"/>
<path d="M852.40,1828.20L852.40,1822.20M852.40,1828.20L858.11,1826.35M852.40,1828.20L855.93,1833.05M852.40,1828.20L848.87,1833.05M852.40,1828.20L846.69,1826.35" stroke="#141414" stroke-width="2.70" stroke-linecap="butt" fill="none"/>
<text transform="translate(544.7,2095.74) rotate(-90)" x="0" y="0" font-size="30.84" textLength="225.29" lengthAdjust="spacing" fill="#141414">P2/P1 ratio (%)</text>
<text transform="translate(153,1659.2) rotate(45)" x="0" y="0" font-size="29.5" fill="#141414" textLength="83.63" lengthAdjust="spacing">ACSF</text>
<text transform="translate(235.5,1662.05) rotate(45)" x="0" y="0" font-size="29.5" fill="#141414" textLength="41.19" lengthAdjust="spacing">NA</text>
<text transform="translate(318.7,1658.1) rotate(45)" x="0" y="0" font-size="29.5" fill="#141414" textLength="148.45" lengthAdjust="spacing">NA+Yohim</text>
<text transform="translate(400.5,1660.4) rotate(45)" x="0" y="0" font-size="29.5" fill="#141414" textLength="75.73" lengthAdjust="spacing">Wash</text>
<text transform="translate(652.35,1656.75) rotate(45)" x="0" y="0" font-size="29.5" fill="#141414" textLength="86.6" lengthAdjust="spacing">ACSF</text>
<text transform="translate(733.15,1658.95) rotate(45)" x="0" y="0" font-size="29.5" fill="#141414" textLength="44.52" lengthAdjust="spacing">NA</text>
<text transform="translate(815.45,1658.55) rotate(45)" x="0" y="0" font-size="29.5" fill="#141414" textLength="149.87" lengthAdjust="spacing">NA+Yohim</text>
<text transform="translate(900,1658) rotate(45)" x="0" y="0" font-size="29.5" fill="#141414" textLength="76.86" lengthAdjust="spacing">Wash</text>
<text transform="translate(153,2175) rotate(45)" x="0" y="0" font-size="29.5" fill="#141414" textLength="83.2" lengthAdjust="spacing">ACSF</text>
<text transform="translate(240.05,2176.3) rotate(45)" x="0" y="0" font-size="29.5" fill="#141414" textLength="45.15" lengthAdjust="spacing">NA</text>
<text transform="translate(319.65,2176.05) rotate(45)" x="0" y="0" font-size="29.5" fill="#141414" textLength="127.63" lengthAdjust="spacing">NA+Praz</text>
<text transform="translate(400.95,2175.5) rotate(45)" x="0" y="0" font-size="29.5" fill="#141414" textLength="77.07" lengthAdjust="spacing">Wash</text>
<text transform="translate(652.85,2173.75) rotate(45)" x="0" y="0" font-size="29.5" fill="#141414" textLength="85.32" lengthAdjust="spacing">ACSF</text>
<text transform="translate(727,2174.65) rotate(45)" x="0" y="0" font-size="29.5" fill="#141414" textLength="44.59" lengthAdjust="spacing">NA</text>
<text transform="translate(824.8,2177.85) rotate(45)" x="0" y="0" font-size="29.5" fill="#141414" textLength="125.87" lengthAdjust="spacing">NA+Praz</text>
<text transform="translate(900.35,2173.6) rotate(45)" x="0" y="0" font-size="29.5" fill="#141414" textLength="77.5" lengthAdjust="spacing">Wash</text>
</svg>
</body></html>
